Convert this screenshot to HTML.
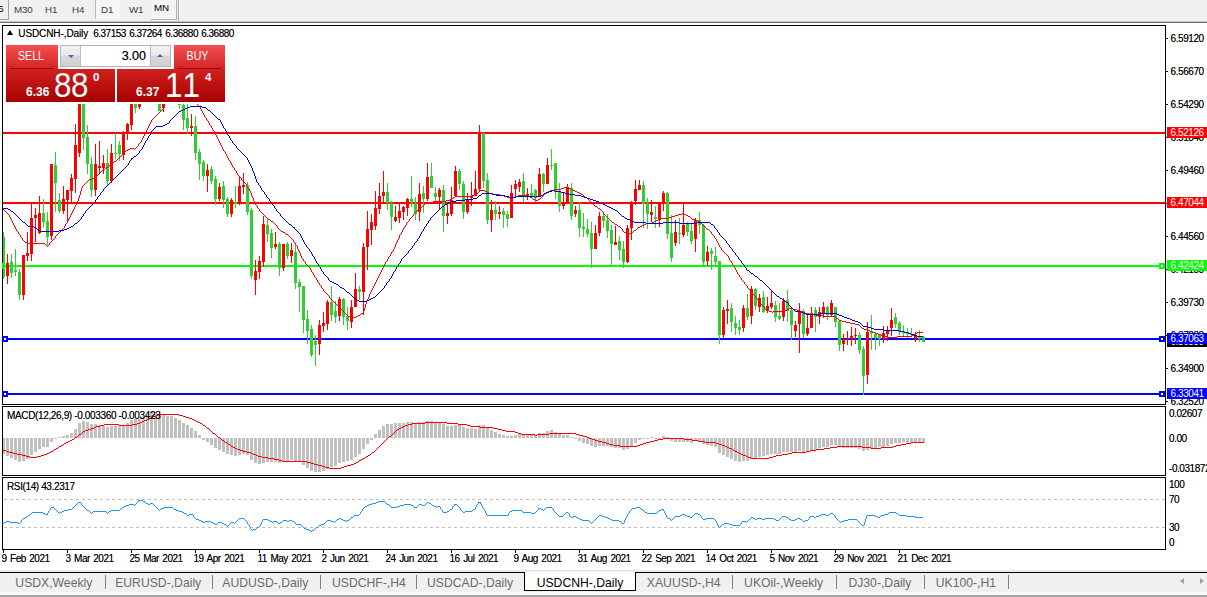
<!DOCTYPE html>
<html><head><meta charset="utf-8"><title>USDCNH-,Daily</title>
<style>
html,body{margin:0;padding:0}
body{width:1207px;height:597px;overflow:hidden;position:relative;background:#f0f0f0;font-family:"Liberation Sans",sans-serif;font-size:10px;color:#000;text-shadow:0 0 0 rgba(0,0,0,0.55)}
div{box-sizing:border-box}
#win{position:absolute;left:0;top:24px;width:1207px;height:547px;background:#fff}
.fr{position:absolute;border:1px solid #000;border-right:none}
.pl{position:absolute;left:1170.6px;height:12px;line-height:12px;font-size:10px;letter-spacing:-0.44px;white-space:nowrap}
.tk{position:absolute;left:1166px;width:2px;height:1px;background:#000}
.tag{position:absolute;left:1167px;width:40px;height:11px;line-height:11px;padding-left:3.6px;color:#fff;text-shadow:none;font-size:10px;letter-spacing:-0.44px;white-space:nowrap}
.dt{position:absolute;top:553px;height:12px;line-height:12px;font-size:10px;letter-spacing:-0.52px;word-spacing:1.3px;white-space:nowrap}
.tab{text-shadow:none;position:absolute;top:575px;height:17px;line-height:17px;font-size:12.2px;color:#6a6a6a;white-space:nowrap;text-align:center}
.tn{position:absolute;top:28px;height:12px;line-height:12px;letter-spacing:-0.5px;white-space:pre}
.tbt{text-shadow:none;position:absolute;top:4px;height:12px;line-height:12px;font-size:9.8px;letter-spacing:-0.2px;color:#3c3c3c;white-space:nowrap}
</style></head><body>
<!-- toolbar -->
<div style="position:absolute;left:0;top:0;width:1207px;height:21px;background:#f0f0f0"></div>
<div style="position:absolute;left:0;top:21px;width:1207px;height:1px;background:#c4c4c4"></div>
<div style="position:absolute;left:0;top:22px;width:1207px;height:1px;background:#6e6e6e"></div>
<div style="position:absolute;left:0;top:23px;width:1207px;height:2px;background:#ffffff"></div>
<div class="tbt" style="left:-1.8px;top:3px;color:#000">5</div>
<div style="position:absolute;left:0;top:19px;width:9px;height:1px;background:#a0a0a0"></div>
<div style="position:absolute;left:8px;top:0;width:1px;height:20px;background:#a0a0a0"></div>
<div class="tbt" style="left:14px">M30</div>
<div class="tbt" style="left:45px">H1</div>
<div class="tbt" style="left:72px">H4</div>
<div style="position:absolute;left:95px;top:0;width:1px;height:19px;background:#b8b8b8"></div>
<div style="position:absolute;left:96px;top:0;width:24px;height:19px;background:#f6f6f6"></div>
<div class="tbt" style="left:101px">D1</div>
<div class="tbt" style="left:129px">W1</div>
<div style="position:absolute;left:151px;top:-1px;width:26px;height:21px;background:#f4f4f4;border-right:1px solid #b0b0b0;border-bottom:1px solid #b0b0b0"></div>
<div class="tbt" style="left:154px;top:2px;color:#000">MN</div>
<div style="position:absolute;left:178px;top:0;width:1px;height:21px;background:#a8a8a8"></div><div style="position:absolute;left:179px;top:0;width:1px;height:21px;background:#fafafa"></div>

<div id="win"></div>
<svg width="1207" height="597" viewBox="0 0 1207 597" style="position:absolute;left:0;top:0">
<g shape-rendering="crispEdges">
<rect x="3" y="132" width="1163" height="2" fill="#ff0000"/>
<rect x="3" y="202" width="1163" height="2" fill="#ff0000"/>
<rect x="3" y="265" width="1163" height="2" fill="#00ff00"/>
<rect x="3" y="338" width="1163" height="2" fill="#0000ff"/>
<rect x="3" y="393" width="1163" height="2" fill="#0000ff"/>
<rect x="3" y="232" width="1" height="47" fill="#32cd32"/>
<rect x="2" y="237" width="3" height="40" fill="#32cd32"/>
<rect x="7" y="254" width="1" height="30" fill="#ff0000"/>
<rect x="6" y="263" width="3" height="13" fill="#ff0000"/>
<rect x="11" y="254" width="1" height="24" fill="#32cd32"/>
<rect x="10" y="262" width="3" height="11" fill="#32cd32"/>
<rect x="15" y="249" width="1" height="27" fill="#32cd32"/>
<rect x="14" y="270" width="3" height="2" fill="#32cd32"/>
<rect x="19" y="269" width="1" height="31" fill="#32cd32"/>
<rect x="18" y="272" width="3" height="23" fill="#32cd32"/>
<rect x="23" y="255" width="1" height="45" fill="#ff0000"/>
<rect x="22" y="255" width="3" height="40" fill="#ff0000"/>
<rect x="27" y="232" width="1" height="29" fill="#ff0000"/>
<rect x="26" y="253" width="3" height="3" fill="#ff0000"/>
<rect x="31" y="203" width="1" height="58" fill="#ff0000"/>
<rect x="30" y="218" width="3" height="36" fill="#ff0000"/>
<rect x="35" y="208" width="1" height="34" fill="#ff0000"/>
<rect x="34" y="215" width="3" height="3" fill="#ff0000"/>
<rect x="39" y="196" width="1" height="38" fill="#ff0000"/>
<rect x="38" y="213" width="3" height="20" fill="#ff0000"/>
<rect x="43" y="199" width="1" height="29" fill="#32cd32"/>
<rect x="42" y="213" width="3" height="9" fill="#32cd32"/>
<rect x="47" y="212" width="1" height="33" fill="#32cd32"/>
<rect x="46" y="221" width="3" height="16" fill="#32cd32"/>
<rect x="51" y="164" width="1" height="76" fill="#ff0000"/>
<rect x="50" y="164" width="3" height="72" fill="#ff0000"/>
<rect x="55" y="152" width="1" height="60" fill="#32cd32"/>
<rect x="54" y="165" width="3" height="18" fill="#32cd32"/>
<rect x="59" y="193" width="1" height="20" fill="#32cd32"/>
<rect x="58" y="200" width="3" height="11" fill="#32cd32"/>
<rect x="63" y="186" width="1" height="28" fill="#ff0000"/>
<rect x="62" y="199" width="3" height="12" fill="#ff0000"/>
<rect x="67" y="190" width="1" height="32" fill="#ff0000"/>
<rect x="66" y="190" width="3" height="10" fill="#ff0000"/>
<rect x="71" y="174" width="1" height="30" fill="#ff0000"/>
<rect x="70" y="178" width="3" height="13" fill="#ff0000"/>
<rect x="75" y="124" width="1" height="69" fill="#ff0000"/>
<rect x="74" y="145" width="3" height="34" fill="#ff0000"/>
<rect x="79" y="90" width="1" height="67" fill="#ff0000"/>
<rect x="78" y="90" width="3" height="63" fill="#ff0000"/>
<rect x="83" y="90" width="1" height="60" fill="#32cd32"/>
<rect x="82" y="90" width="3" height="48" fill="#32cd32"/>
<rect x="87" y="125" width="1" height="49" fill="#32cd32"/>
<rect x="86" y="137" width="3" height="27" fill="#32cd32"/>
<rect x="91" y="157" width="1" height="40" fill="#32cd32"/>
<rect x="90" y="164" width="3" height="26" fill="#32cd32"/>
<rect x="95" y="144" width="1" height="52" fill="#ff0000"/>
<rect x="94" y="164" width="3" height="26" fill="#ff0000"/>
<rect x="99" y="141" width="1" height="33" fill="#ff0000"/>
<rect x="98" y="166" width="3" height="2" fill="#ff0000"/>
<rect x="103" y="155" width="1" height="19" fill="#ff0000"/>
<rect x="102" y="163" width="3" height="5" fill="#ff0000"/>
<rect x="107" y="149" width="1" height="36" fill="#32cd32"/>
<rect x="106" y="163" width="3" height="18" fill="#32cd32"/>
<rect x="111" y="144" width="1" height="39" fill="#ff0000"/>
<rect x="110" y="153" width="3" height="28" fill="#ff0000"/>
<rect x="115" y="133" width="1" height="26" fill="#32cd32"/>
<rect x="114" y="153" width="3" height="1" fill="#32cd32"/>
<rect x="119" y="141" width="1" height="20" fill="#32cd32"/>
<rect x="118" y="145" width="3" height="9" fill="#32cd32"/>
<rect x="123" y="131" width="1" height="29" fill="#ff0000"/>
<rect x="122" y="132" width="3" height="23" fill="#ff0000"/>
<rect x="127" y="123" width="1" height="17" fill="#ff0000"/>
<rect x="126" y="124" width="3" height="8" fill="#ff0000"/>
<rect x="131" y="90" width="1" height="40" fill="#ff0000"/>
<rect x="130" y="90" width="3" height="35" fill="#ff0000"/>
<rect x="135" y="90" width="1" height="23" fill="#32cd32"/>
<rect x="134" y="90" width="3" height="18" fill="#32cd32"/>
<rect x="139" y="90" width="1" height="19" fill="#ff0000"/>
<rect x="138" y="90" width="3" height="17" fill="#ff0000"/>
<rect x="159" y="90" width="1" height="21" fill="#32cd32"/>
<rect x="158" y="90" width="3" height="21" fill="#32cd32"/>
<rect x="163" y="90" width="1" height="22" fill="#ff0000"/>
<rect x="162" y="90" width="3" height="18" fill="#ff0000"/>
<rect x="179" y="90" width="1" height="19" fill="#32cd32"/>
<rect x="178" y="104" width="3" height="1" fill="#32cd32"/>
<rect x="183" y="100" width="1" height="30" fill="#32cd32"/>
<rect x="182" y="105" width="3" height="15" fill="#32cd32"/>
<rect x="187" y="100" width="1" height="34" fill="#32cd32"/>
<rect x="186" y="118" width="3" height="10" fill="#32cd32"/>
<rect x="191" y="114" width="1" height="22" fill="#ff0000"/>
<rect x="190" y="126" width="3" height="2" fill="#ff0000"/>
<rect x="195" y="116" width="1" height="44" fill="#32cd32"/>
<rect x="194" y="126" width="3" height="27" fill="#32cd32"/>
<rect x="199" y="149" width="1" height="31" fill="#32cd32"/>
<rect x="198" y="152" width="3" height="12" fill="#32cd32"/>
<rect x="203" y="160" width="1" height="21" fill="#32cd32"/>
<rect x="202" y="162" width="3" height="14" fill="#32cd32"/>
<rect x="207" y="164" width="1" height="28" fill="#ff0000"/>
<rect x="206" y="170" width="3" height="6" fill="#ff0000"/>
<rect x="211" y="166" width="1" height="18" fill="#32cd32"/>
<rect x="210" y="169" width="3" height="12" fill="#32cd32"/>
<rect x="215" y="176" width="1" height="29" fill="#32cd32"/>
<rect x="214" y="179" width="3" height="20" fill="#32cd32"/>
<rect x="219" y="183" width="1" height="18" fill="#ff0000"/>
<rect x="218" y="187" width="3" height="12" fill="#ff0000"/>
<rect x="223" y="181" width="1" height="27" fill="#32cd32"/>
<rect x="222" y="186" width="3" height="14" fill="#32cd32"/>
<rect x="227" y="197" width="1" height="20" fill="#32cd32"/>
<rect x="226" y="199" width="3" height="15" fill="#32cd32"/>
<rect x="231" y="198" width="1" height="19" fill="#ff0000"/>
<rect x="230" y="200" width="3" height="14" fill="#ff0000"/>
<rect x="235" y="186" width="1" height="22" fill="#32cd32"/>
<rect x="234" y="202" width="3" height="2" fill="#32cd32"/>
<rect x="239" y="176" width="1" height="29" fill="#ff0000"/>
<rect x="238" y="186" width="3" height="18" fill="#ff0000"/>
<rect x="243" y="173" width="1" height="21" fill="#ff0000"/>
<rect x="242" y="185" width="3" height="2" fill="#ff0000"/>
<rect x="247" y="182" width="1" height="33" fill="#32cd32"/>
<rect x="246" y="185" width="3" height="27" fill="#32cd32"/>
<rect x="251" y="208" width="1" height="71" fill="#32cd32"/>
<rect x="250" y="210" width="3" height="66" fill="#32cd32"/>
<rect x="255" y="260" width="1" height="35" fill="#ff0000"/>
<rect x="254" y="271" width="3" height="9" fill="#ff0000"/>
<rect x="259" y="256" width="1" height="23" fill="#ff0000"/>
<rect x="258" y="261" width="3" height="11" fill="#ff0000"/>
<rect x="263" y="216" width="1" height="51" fill="#ff0000"/>
<rect x="262" y="224" width="3" height="38" fill="#ff0000"/>
<rect x="267" y="219" width="1" height="23" fill="#32cd32"/>
<rect x="266" y="225" width="3" height="9" fill="#32cd32"/>
<rect x="271" y="229" width="1" height="29" fill="#32cd32"/>
<rect x="270" y="233" width="3" height="15" fill="#32cd32"/>
<rect x="275" y="232" width="1" height="17" fill="#ff0000"/>
<rect x="274" y="244" width="3" height="3" fill="#ff0000"/>
<rect x="279" y="242" width="1" height="34" fill="#32cd32"/>
<rect x="278" y="244" width="3" height="24" fill="#32cd32"/>
<rect x="283" y="244" width="1" height="27" fill="#ff0000"/>
<rect x="282" y="244" width="3" height="24" fill="#ff0000"/>
<rect x="287" y="242" width="1" height="17" fill="#32cd32"/>
<rect x="286" y="244" width="3" height="12" fill="#32cd32"/>
<rect x="291" y="243" width="1" height="20" fill="#ff0000"/>
<rect x="290" y="250" width="3" height="6" fill="#ff0000"/>
<rect x="295" y="244" width="1" height="45" fill="#32cd32"/>
<rect x="294" y="252" width="3" height="31" fill="#32cd32"/>
<rect x="299" y="279" width="1" height="33" fill="#32cd32"/>
<rect x="298" y="282" width="3" height="5" fill="#32cd32"/>
<rect x="303" y="286" width="1" height="47" fill="#32cd32"/>
<rect x="302" y="286" width="3" height="34" fill="#32cd32"/>
<rect x="307" y="310" width="1" height="34" fill="#32cd32"/>
<rect x="306" y="319" width="3" height="12" fill="#32cd32"/>
<rect x="311" y="325" width="1" height="32" fill="#32cd32"/>
<rect x="310" y="329" width="3" height="26" fill="#32cd32"/>
<rect x="315" y="335" width="1" height="31" fill="#32cd32"/>
<rect x="314" y="341" width="3" height="4" fill="#32cd32"/>
<rect x="319" y="320" width="1" height="35" fill="#ff0000"/>
<rect x="318" y="325" width="3" height="19" fill="#ff0000"/>
<rect x="323" y="312" width="1" height="20" fill="#ff0000"/>
<rect x="322" y="323" width="3" height="3" fill="#ff0000"/>
<rect x="327" y="300" width="1" height="30" fill="#ff0000"/>
<rect x="326" y="302" width="3" height="22" fill="#ff0000"/>
<rect x="331" y="286" width="1" height="35" fill="#32cd32"/>
<rect x="330" y="302" width="3" height="13" fill="#32cd32"/>
<rect x="335" y="301" width="1" height="22" fill="#32cd32"/>
<rect x="334" y="311" width="3" height="6" fill="#32cd32"/>
<rect x="339" y="297" width="1" height="24" fill="#ff0000"/>
<rect x="338" y="299" width="3" height="17" fill="#ff0000"/>
<rect x="343" y="298" width="1" height="27" fill="#32cd32"/>
<rect x="342" y="299" width="3" height="18" fill="#32cd32"/>
<rect x="347" y="307" width="1" height="23" fill="#32cd32"/>
<rect x="346" y="316" width="3" height="5" fill="#32cd32"/>
<rect x="351" y="300" width="1" height="28" fill="#ff0000"/>
<rect x="350" y="307" width="3" height="15" fill="#ff0000"/>
<rect x="355" y="273" width="1" height="34" fill="#ff0000"/>
<rect x="354" y="289" width="3" height="18" fill="#ff0000"/>
<rect x="359" y="286" width="1" height="14" fill="#32cd32"/>
<rect x="358" y="289" width="3" height="3" fill="#32cd32"/>
<rect x="363" y="243" width="1" height="72" fill="#ff0000"/>
<rect x="362" y="247" width="3" height="45" fill="#ff0000"/>
<rect x="367" y="211" width="1" height="59" fill="#ff0000"/>
<rect x="366" y="229" width="3" height="18" fill="#ff0000"/>
<rect x="371" y="214" width="1" height="31" fill="#ff0000"/>
<rect x="370" y="222" width="3" height="8" fill="#ff0000"/>
<rect x="375" y="191" width="1" height="39" fill="#ff0000"/>
<rect x="374" y="208" width="3" height="18" fill="#ff0000"/>
<rect x="379" y="183" width="1" height="31" fill="#ff0000"/>
<rect x="378" y="196" width="3" height="13" fill="#ff0000"/>
<rect x="383" y="171" width="1" height="31" fill="#ff0000"/>
<rect x="382" y="192" width="3" height="4" fill="#ff0000"/>
<rect x="387" y="183" width="1" height="27" fill="#32cd32"/>
<rect x="386" y="192" width="3" height="11" fill="#32cd32"/>
<rect x="391" y="201" width="1" height="29" fill="#32cd32"/>
<rect x="390" y="203" width="3" height="14" fill="#32cd32"/>
<rect x="395" y="206" width="1" height="16" fill="#ff0000"/>
<rect x="394" y="217" width="3" height="4" fill="#ff0000"/>
<rect x="399" y="204" width="1" height="19" fill="#ff0000"/>
<rect x="398" y="211" width="3" height="7" fill="#ff0000"/>
<rect x="403" y="206" width="1" height="14" fill="#ff0000"/>
<rect x="402" y="207" width="3" height="5" fill="#ff0000"/>
<rect x="407" y="198" width="1" height="18" fill="#ff0000"/>
<rect x="406" y="199" width="3" height="9" fill="#ff0000"/>
<rect x="411" y="176" width="1" height="31" fill="#32cd32"/>
<rect x="410" y="199" width="3" height="4" fill="#32cd32"/>
<rect x="415" y="197" width="1" height="23" fill="#32cd32"/>
<rect x="414" y="203" width="3" height="11" fill="#32cd32"/>
<rect x="419" y="183" width="1" height="38" fill="#ff0000"/>
<rect x="418" y="194" width="3" height="18" fill="#ff0000"/>
<rect x="423" y="186" width="1" height="27" fill="#32cd32"/>
<rect x="422" y="193" width="3" height="6" fill="#32cd32"/>
<rect x="427" y="163" width="1" height="38" fill="#ff0000"/>
<rect x="426" y="177" width="3" height="22" fill="#ff0000"/>
<rect x="431" y="163" width="1" height="25" fill="#32cd32"/>
<rect x="430" y="176" width="3" height="12" fill="#32cd32"/>
<rect x="435" y="187" width="1" height="14" fill="#32cd32"/>
<rect x="434" y="193" width="3" height="4" fill="#32cd32"/>
<rect x="439" y="188" width="1" height="21" fill="#ff0000"/>
<rect x="438" y="190" width="3" height="7" fill="#ff0000"/>
<rect x="443" y="185" width="1" height="47" fill="#32cd32"/>
<rect x="442" y="190" width="3" height="26" fill="#32cd32"/>
<rect x="447" y="203" width="1" height="21" fill="#ff0000"/>
<rect x="446" y="213" width="3" height="3" fill="#ff0000"/>
<rect x="451" y="187" width="1" height="29" fill="#ff0000"/>
<rect x="450" y="200" width="3" height="14" fill="#ff0000"/>
<rect x="455" y="166" width="1" height="31" fill="#ff0000"/>
<rect x="454" y="171" width="3" height="25" fill="#ff0000"/>
<rect x="459" y="169" width="1" height="21" fill="#32cd32"/>
<rect x="458" y="171" width="3" height="13" fill="#32cd32"/>
<rect x="463" y="181" width="1" height="38" fill="#32cd32"/>
<rect x="462" y="184" width="3" height="28" fill="#32cd32"/>
<rect x="467" y="193" width="1" height="21" fill="#ff0000"/>
<rect x="466" y="200" width="3" height="12" fill="#ff0000"/>
<rect x="471" y="182" width="1" height="24" fill="#ff0000"/>
<rect x="470" y="196" width="3" height="2" fill="#ff0000"/>
<rect x="475" y="171" width="1" height="25" fill="#ff0000"/>
<rect x="474" y="189" width="3" height="7" fill="#ff0000"/>
<rect x="479" y="125" width="1" height="67" fill="#ff0000"/>
<rect x="478" y="133" width="3" height="56" fill="#ff0000"/>
<rect x="483" y="133" width="1" height="55" fill="#32cd32"/>
<rect x="482" y="133" width="3" height="48" fill="#32cd32"/>
<rect x="487" y="173" width="1" height="51" fill="#32cd32"/>
<rect x="486" y="180" width="3" height="40" fill="#32cd32"/>
<rect x="491" y="200" width="1" height="32" fill="#ff0000"/>
<rect x="490" y="210" width="3" height="10" fill="#ff0000"/>
<rect x="495" y="201" width="1" height="19" fill="#32cd32"/>
<rect x="494" y="210" width="3" height="4" fill="#32cd32"/>
<rect x="499" y="206" width="1" height="13" fill="#ff0000"/>
<rect x="498" y="212" width="3" height="2" fill="#ff0000"/>
<rect x="503" y="208" width="1" height="20" fill="#32cd32"/>
<rect x="502" y="211" width="3" height="4" fill="#32cd32"/>
<rect x="507" y="211" width="1" height="16" fill="#32cd32"/>
<rect x="506" y="214" width="3" height="5" fill="#32cd32"/>
<rect x="511" y="185" width="1" height="33" fill="#ff0000"/>
<rect x="510" y="193" width="3" height="25" fill="#ff0000"/>
<rect x="515" y="180" width="1" height="17" fill="#ff0000"/>
<rect x="514" y="184" width="3" height="5" fill="#ff0000"/>
<rect x="519" y="179" width="1" height="13" fill="#ff0000"/>
<rect x="518" y="182" width="3" height="5" fill="#ff0000"/>
<rect x="523" y="173" width="1" height="29" fill="#32cd32"/>
<rect x="522" y="181" width="3" height="15" fill="#32cd32"/>
<rect x="527" y="188" width="1" height="12" fill="#ff0000"/>
<rect x="526" y="194" width="3" height="2" fill="#ff0000"/>
<rect x="531" y="184" width="1" height="14" fill="#32cd32"/>
<rect x="530" y="193" width="3" height="4" fill="#32cd32"/>
<rect x="535" y="189" width="1" height="13" fill="#32cd32"/>
<rect x="534" y="190" width="3" height="8" fill="#32cd32"/>
<rect x="539" y="168" width="1" height="29" fill="#ff0000"/>
<rect x="538" y="174" width="3" height="23" fill="#ff0000"/>
<rect x="543" y="173" width="1" height="19" fill="#32cd32"/>
<rect x="542" y="174" width="3" height="10" fill="#32cd32"/>
<rect x="547" y="158" width="1" height="26" fill="#ff0000"/>
<rect x="546" y="165" width="3" height="19" fill="#ff0000"/>
<rect x="551" y="149" width="1" height="21" fill="#32cd32"/>
<rect x="550" y="165" width="3" height="1" fill="#32cd32"/>
<rect x="555" y="163" width="1" height="36" fill="#32cd32"/>
<rect x="554" y="163" width="3" height="29" fill="#32cd32"/>
<rect x="559" y="183" width="1" height="29" fill="#32cd32"/>
<rect x="558" y="192" width="3" height="14" fill="#32cd32"/>
<rect x="563" y="192" width="1" height="17" fill="#ff0000"/>
<rect x="562" y="203" width="3" height="3" fill="#ff0000"/>
<rect x="567" y="184" width="1" height="20" fill="#ff0000"/>
<rect x="566" y="187" width="3" height="17" fill="#ff0000"/>
<rect x="571" y="183" width="1" height="37" fill="#32cd32"/>
<rect x="570" y="188" width="3" height="28" fill="#32cd32"/>
<rect x="575" y="206" width="1" height="11" fill="#ff0000"/>
<rect x="574" y="210" width="3" height="4" fill="#ff0000"/>
<rect x="579" y="202" width="1" height="35" fill="#32cd32"/>
<rect x="578" y="210" width="3" height="18" fill="#32cd32"/>
<rect x="583" y="213" width="1" height="24" fill="#32cd32"/>
<rect x="582" y="227" width="3" height="2" fill="#32cd32"/>
<rect x="587" y="219" width="1" height="18" fill="#32cd32"/>
<rect x="586" y="229" width="3" height="5" fill="#32cd32"/>
<rect x="591" y="222" width="1" height="46" fill="#32cd32"/>
<rect x="590" y="233" width="3" height="16" fill="#32cd32"/>
<rect x="595" y="225" width="1" height="24" fill="#ff0000"/>
<rect x="594" y="233" width="3" height="16" fill="#ff0000"/>
<rect x="599" y="212" width="1" height="24" fill="#ff0000"/>
<rect x="598" y="216" width="3" height="17" fill="#ff0000"/>
<rect x="603" y="214" width="1" height="14" fill="#32cd32"/>
<rect x="602" y="216" width="3" height="5" fill="#32cd32"/>
<rect x="607" y="214" width="1" height="24" fill="#32cd32"/>
<rect x="606" y="220" width="3" height="11" fill="#32cd32"/>
<rect x="611" y="225" width="1" height="40" fill="#32cd32"/>
<rect x="610" y="230" width="3" height="14" fill="#32cd32"/>
<rect x="615" y="226" width="1" height="19" fill="#ff0000"/>
<rect x="614" y="242" width="3" height="3" fill="#ff0000"/>
<rect x="619" y="236" width="1" height="24" fill="#32cd32"/>
<rect x="618" y="241" width="3" height="9" fill="#32cd32"/>
<rect x="623" y="241" width="1" height="27" fill="#32cd32"/>
<rect x="622" y="249" width="3" height="13" fill="#32cd32"/>
<rect x="627" y="225" width="1" height="38" fill="#ff0000"/>
<rect x="626" y="228" width="3" height="34" fill="#ff0000"/>
<rect x="631" y="201" width="1" height="39" fill="#ff0000"/>
<rect x="630" y="203" width="3" height="25" fill="#ff0000"/>
<rect x="635" y="180" width="1" height="25" fill="#ff0000"/>
<rect x="634" y="189" width="3" height="12" fill="#ff0000"/>
<rect x="639" y="180" width="1" height="10" fill="#ff0000"/>
<rect x="638" y="185" width="3" height="5" fill="#ff0000"/>
<rect x="643" y="181" width="1" height="47" fill="#32cd32"/>
<rect x="642" y="185" width="3" height="19" fill="#32cd32"/>
<rect x="647" y="198" width="1" height="31" fill="#32cd32"/>
<rect x="646" y="203" width="3" height="11" fill="#32cd32"/>
<rect x="651" y="200" width="1" height="22" fill="#ff0000"/>
<rect x="650" y="212" width="3" height="3" fill="#ff0000"/>
<rect x="655" y="206" width="1" height="22" fill="#32cd32"/>
<rect x="654" y="217" width="3" height="2" fill="#32cd32"/>
<rect x="659" y="204" width="1" height="23" fill="#ff0000"/>
<rect x="658" y="204" width="3" height="15" fill="#ff0000"/>
<rect x="663" y="191" width="1" height="20" fill="#ff0000"/>
<rect x="662" y="193" width="3" height="11" fill="#ff0000"/>
<rect x="667" y="192" width="1" height="47" fill="#32cd32"/>
<rect x="666" y="193" width="3" height="41" fill="#32cd32"/>
<rect x="671" y="215" width="1" height="47" fill="#32cd32"/>
<rect x="670" y="233" width="3" height="25" fill="#32cd32"/>
<rect x="675" y="220" width="1" height="26" fill="#ff0000"/>
<rect x="674" y="232" width="3" height="11" fill="#ff0000"/>
<rect x="679" y="218" width="1" height="26" fill="#32cd32"/>
<rect x="678" y="233" width="3" height="1" fill="#32cd32"/>
<rect x="683" y="204" width="1" height="33" fill="#ff0000"/>
<rect x="682" y="225" width="3" height="10" fill="#ff0000"/>
<rect x="687" y="222" width="1" height="14" fill="#32cd32"/>
<rect x="686" y="224" width="3" height="8" fill="#32cd32"/>
<rect x="691" y="224" width="1" height="20" fill="#32cd32"/>
<rect x="690" y="231" width="3" height="10" fill="#32cd32"/>
<rect x="695" y="218" width="1" height="34" fill="#ff0000"/>
<rect x="694" y="220" width="3" height="19" fill="#ff0000"/>
<rect x="699" y="212" width="1" height="22" fill="#32cd32"/>
<rect x="698" y="220" width="3" height="5" fill="#32cd32"/>
<rect x="703" y="224" width="1" height="42" fill="#32cd32"/>
<rect x="702" y="225" width="3" height="37" fill="#32cd32"/>
<rect x="707" y="246" width="1" height="20" fill="#ff0000"/>
<rect x="706" y="252" width="3" height="9" fill="#ff0000"/>
<rect x="711" y="248" width="1" height="22" fill="#32cd32"/>
<rect x="710" y="251" width="3" height="3" fill="#32cd32"/>
<rect x="715" y="247" width="1" height="19" fill="#32cd32"/>
<rect x="714" y="256" width="3" height="6" fill="#32cd32"/>
<rect x="719" y="261" width="1" height="83" fill="#32cd32"/>
<rect x="718" y="261" width="3" height="74" fill="#32cd32"/>
<rect x="723" y="307" width="1" height="31" fill="#ff0000"/>
<rect x="722" y="310" width="3" height="25" fill="#ff0000"/>
<rect x="727" y="300" width="1" height="24" fill="#ff0000"/>
<rect x="726" y="309" width="3" height="2" fill="#ff0000"/>
<rect x="731" y="303" width="1" height="29" fill="#32cd32"/>
<rect x="730" y="308" width="3" height="14" fill="#32cd32"/>
<rect x="735" y="316" width="1" height="19" fill="#32cd32"/>
<rect x="734" y="323" width="3" height="5" fill="#32cd32"/>
<rect x="739" y="320" width="1" height="15" fill="#32cd32"/>
<rect x="738" y="327" width="3" height="3" fill="#32cd32"/>
<rect x="743" y="305" width="1" height="27" fill="#ff0000"/>
<rect x="742" y="308" width="3" height="20" fill="#ff0000"/>
<rect x="747" y="294" width="1" height="26" fill="#32cd32"/>
<rect x="746" y="308" width="3" height="9" fill="#32cd32"/>
<rect x="751" y="286" width="1" height="38" fill="#ff0000"/>
<rect x="750" y="289" width="3" height="27" fill="#ff0000"/>
<rect x="755" y="288" width="1" height="22" fill="#32cd32"/>
<rect x="754" y="289" width="3" height="17" fill="#32cd32"/>
<rect x="759" y="294" width="1" height="18" fill="#ff0000"/>
<rect x="758" y="298" width="3" height="9" fill="#ff0000"/>
<rect x="763" y="291" width="1" height="22" fill="#32cd32"/>
<rect x="762" y="297" width="3" height="15" fill="#32cd32"/>
<rect x="767" y="297" width="1" height="16" fill="#ff0000"/>
<rect x="766" y="306" width="3" height="5" fill="#ff0000"/>
<rect x="771" y="290" width="1" height="19" fill="#ff0000"/>
<rect x="770" y="303" width="3" height="4" fill="#ff0000"/>
<rect x="775" y="301" width="1" height="21" fill="#32cd32"/>
<rect x="774" y="305" width="3" height="12" fill="#32cd32"/>
<rect x="779" y="303" width="1" height="17" fill="#32cd32"/>
<rect x="778" y="316" width="3" height="3" fill="#32cd32"/>
<rect x="783" y="298" width="1" height="23" fill="#ff0000"/>
<rect x="782" y="301" width="3" height="16" fill="#ff0000"/>
<rect x="787" y="290" width="1" height="32" fill="#32cd32"/>
<rect x="786" y="300" width="3" height="11" fill="#32cd32"/>
<rect x="791" y="308" width="1" height="32" fill="#32cd32"/>
<rect x="790" y="310" width="3" height="15" fill="#32cd32"/>
<rect x="795" y="321" width="1" height="16" fill="#ff0000"/>
<rect x="794" y="325" width="3" height="6" fill="#ff0000"/>
<rect x="799" y="303" width="1" height="50" fill="#ff0000"/>
<rect x="798" y="311" width="3" height="13" fill="#ff0000"/>
<rect x="803" y="309" width="1" height="29" fill="#32cd32"/>
<rect x="802" y="311" width="3" height="23" fill="#32cd32"/>
<rect x="807" y="314" width="1" height="22" fill="#ff0000"/>
<rect x="806" y="328" width="3" height="6" fill="#ff0000"/>
<rect x="811" y="307" width="1" height="21" fill="#ff0000"/>
<rect x="810" y="313" width="3" height="15" fill="#ff0000"/>
<rect x="815" y="307" width="1" height="25" fill="#32cd32"/>
<rect x="814" y="310" width="3" height="7" fill="#32cd32"/>
<rect x="819" y="307" width="1" height="17" fill="#ff0000"/>
<rect x="818" y="312" width="3" height="5" fill="#ff0000"/>
<rect x="823" y="302" width="1" height="16" fill="#ff0000"/>
<rect x="822" y="307" width="3" height="7" fill="#ff0000"/>
<rect x="827" y="306" width="1" height="14" fill="#32cd32"/>
<rect x="826" y="307" width="3" height="8" fill="#32cd32"/>
<rect x="831" y="300" width="1" height="16" fill="#ff0000"/>
<rect x="830" y="303" width="3" height="12" fill="#ff0000"/>
<rect x="835" y="307" width="1" height="20" fill="#32cd32"/>
<rect x="834" y="307" width="3" height="15" fill="#32cd32"/>
<rect x="839" y="321" width="1" height="30" fill="#32cd32"/>
<rect x="838" y="321" width="3" height="24" fill="#32cd32"/>
<rect x="843" y="334" width="1" height="17" fill="#ff0000"/>
<rect x="842" y="339" width="3" height="5" fill="#ff0000"/>
<rect x="847" y="331" width="1" height="14" fill="#ff0000"/>
<rect x="846" y="338" width="3" height="1" fill="#ff0000"/>
<rect x="851" y="327" width="1" height="19" fill="#ff0000"/>
<rect x="850" y="336" width="3" height="3" fill="#ff0000"/>
<rect x="855" y="328" width="1" height="16" fill="#ff0000"/>
<rect x="854" y="335" width="3" height="1" fill="#ff0000"/>
<rect x="859" y="332" width="1" height="22" fill="#32cd32"/>
<rect x="858" y="335" width="3" height="15" fill="#32cd32"/>
<rect x="863" y="346" width="1" height="49" fill="#32cd32"/>
<rect x="862" y="349" width="3" height="27" fill="#32cd32"/>
<rect x="867" y="322" width="1" height="62" fill="#ff0000"/>
<rect x="866" y="332" width="3" height="43" fill="#ff0000"/>
<rect x="871" y="315" width="1" height="35" fill="#32cd32"/>
<rect x="870" y="331" width="3" height="2" fill="#32cd32"/>
<rect x="875" y="332" width="1" height="18" fill="#32cd32"/>
<rect x="874" y="334" width="3" height="4" fill="#32cd32"/>
<rect x="879" y="334" width="1" height="12" fill="#32cd32"/>
<rect x="878" y="335" width="3" height="4" fill="#32cd32"/>
<rect x="883" y="326" width="1" height="17" fill="#ff0000"/>
<rect x="882" y="333" width="3" height="6" fill="#ff0000"/>
<rect x="887" y="326" width="1" height="15" fill="#ff0000"/>
<rect x="886" y="330" width="3" height="4" fill="#ff0000"/>
<rect x="891" y="308" width="1" height="28" fill="#ff0000"/>
<rect x="890" y="320" width="3" height="8" fill="#ff0000"/>
<rect x="895" y="313" width="1" height="15" fill="#32cd32"/>
<rect x="894" y="317" width="3" height="7" fill="#32cd32"/>
<rect x="899" y="321" width="1" height="14" fill="#32cd32"/>
<rect x="898" y="323" width="3" height="9" fill="#32cd32"/>
<rect x="903" y="325" width="1" height="11" fill="#32cd32"/>
<rect x="902" y="331" width="3" height="2" fill="#32cd32"/>
<rect x="907" y="328" width="1" height="10" fill="#32cd32"/>
<rect x="906" y="332" width="3" height="2" fill="#32cd32"/>
<rect x="911" y="328" width="1" height="8" fill="#32cd32"/>
<rect x="910" y="334" width="3" height="1" fill="#32cd32"/>
<rect x="915" y="332" width="1" height="10" fill="#ff0000"/>
<rect x="914" y="336" width="3" height="3" fill="#ff0000"/>
<rect x="919" y="330" width="1" height="12" fill="#32cd32"/>
<rect x="918" y="336" width="3" height="3" fill="#32cd32"/>
<rect x="923" y="336" width="1" height="6" fill="#32cd32"/>
<rect x="922" y="337" width="3" height="5" fill="#32cd32"/>
<path d="M3 209h1v1h-1zM4 210h1v1h-1zM5 211h1v1h-1zM6 212h1v1h-1zM7 213h1v1h-1zM8 214h1v1h-1zM9 215h1v2h-1zM10 217h1v2h-1zM11 219h1v2h-1zM12 221h1v2h-1zM13 223h1v2h-1zM14 225h1v2h-1zM15 227h1v2h-1zM16 229h1v2h-1zM17 231h1v1h-1zM18 232h1v2h-1zM19 234h1v1h-1zM20 235h1v2h-1zM21 237h1v1h-1zM22 238h1v2h-1zM23 240h1v1h-1zM24 241h1v1h-1zM25 242h2v1h-2zM27 243h18v1h-18zM45 244h1v1h-1zM46 245h1v1h-1zM47 246h1v1h-1zM48 245h1v1h-1zM49 243h1v2h-1zM50 242h1v1h-1zM51 241h1v1h-1zM52 240h1v1h-1zM53 239h1v1h-1zM54 238h1v1h-1zM55 236h1v2h-1zM56 235h1v1h-1zM57 234h1v1h-1zM58 233h1v1h-1zM59 232h1v1h-1zM60 231h1v1h-1zM61 230h1v1h-1zM62 229h1v1h-1zM63 228h1v1h-1zM64 226h1v2h-1zM65 224h1v2h-1zM66 223h1v1h-1zM67 221h1v2h-1zM68 219h1v2h-1zM69 217h1v2h-1zM70 215h1v2h-1zM71 213h1v2h-1zM72 211h1v2h-1zM73 209h1v2h-1zM74 207h1v2h-1zM75 205h1v2h-1zM76 203h1v2h-1zM77 201h1v2h-1zM78 198h1v3h-1zM79 195h1v3h-1zM80 191h1v4h-1zM81 188h1v3h-1zM82 186h1v2h-1zM83 185h1v1h-1zM84 184h1v1h-1zM85 183h1v1h-1zM86 182h1v1h-1zM87 181h1v1h-1zM88 180h1v1h-1zM89 179h3v1h-3zM92 178h2v1h-2zM94 177h1v1h-1zM95 176h1v1h-1zM96 175h2v1h-2zM98 174h1v1h-1zM99 173h1v1h-1zM100 172h1v1h-1zM101 171h1v1h-1zM102 170h1v1h-1zM103 169h2v1h-2zM105 168h1v1h-1zM106 167h2v1h-2zM108 166h1v1h-1zM109 165h2v1h-2zM111 164h1v1h-1zM112 163h1v1h-1zM113 162h1v1h-1zM114 161h2v1h-2zM116 160h1v1h-1zM117 159h1v1h-1zM118 158h1v1h-1zM119 157h1v1h-1zM120 156h1v1h-1zM121 155h1v1h-1zM122 154h1v1h-1zM123 153h1v1h-1zM124 152h1v1h-1zM125 151h1v1h-1zM126 150h2v1h-2zM128 149h2v1h-2zM130 148h4v1h-4zM134 149h1v1h-1zM135 148h1v1h-1zM136 147h1v1h-1zM137 146h1v1h-1zM138 144h1v2h-1zM139 143h1v1h-1zM140 142h1v1h-1zM141 140h1v2h-1zM142 138h1v2h-1zM143 136h1v2h-1zM144 134h1v2h-1zM145 132h1v2h-1zM146 130h1v2h-1zM147 128h1v2h-1zM148 126h1v2h-1zM149 124h1v2h-1zM150 122h1v2h-1zM151 120h1v2h-1zM152 119h1v1h-1zM153 118h1v1h-1zM154 117h1v1h-1zM155 116h1v1h-1zM156 115h1v1h-1zM157 114h1v1h-1zM158 113h1v1h-1zM159 112h1v1h-1zM160 111h1v1h-1zM161 110h1v1h-1zM162 109h1v1h-1zM163 107h1v2h-1zM164 104h1v3h-1zM165 103h1v1h-1zM166 102h2v1h-2zM168 101h2v1h-2zM170 100h2v1h-2zM172 99h2v1h-2zM174 98h2v1h-2zM176 97h2v1h-2zM178 96h7v1h-7zM185 97h5v1h-5zM190 98h2v1h-2zM192 99h1v1h-1zM193 100h1v1h-1zM194 101h1v1h-1zM195 102h1v1h-1zM196 103h1v1h-1zM197 103h1v2h-1zM198 105h1v1h-1zM199 106h1v1h-1zM200 107h1v2h-1zM201 109h1v2h-1zM202 111h1v2h-1zM203 113h1v2h-1zM204 115h1v2h-1zM205 117h1v1h-1zM206 118h1v2h-1zM207 120h1v1h-1zM208 121h1v2h-1zM209 123h1v2h-1zM210 125h1v1h-1zM211 126h1v2h-1zM212 128h1v2h-1zM213 130h1v1h-1zM214 131h1v2h-1zM215 133h1v2h-1zM216 135h1v2h-1zM217 137h1v2h-1zM218 139h1v2h-1zM219 141h1v2h-1zM220 143h1v2h-1zM221 145h1v2h-1zM222 147h1v2h-1zM223 149h1v2h-1zM224 151h1v1h-1zM225 152h1v2h-1zM226 154h1v2h-1zM227 156h1v2h-1zM228 158h1v2h-1zM229 160h1v1h-1zM230 161h1v2h-1zM231 163h1v2h-1zM232 165h1v2h-1zM233 167h1v1h-1zM234 168h1v2h-1zM235 170h1v1h-1zM236 171h1v2h-1zM237 173h1v2h-1zM238 175h1v1h-1zM239 176h1v1h-1zM240 177h1v1h-1zM241 178h1v2h-1zM242 180h1v1h-1zM243 181h1v1h-1zM244 182h1v1h-1zM245 183h1v1h-1zM246 184h1v2h-1zM247 186h1v2h-1zM248 188h1v1h-1zM249 189h1v2h-1zM250 191h1v2h-1zM251 193h1v3h-1zM252 196h1v2h-1zM253 198h1v3h-1zM254 201h1v2h-1zM255 203h1v2h-1zM256 205h1v1h-1zM257 206h1v2h-1zM258 208h1v1h-1zM259 209h1v2h-1zM260 211h1v1h-1zM261 212h1v1h-1zM262 213h1v1h-1zM263 214h1v1h-1zM264 215h1v1h-1zM265 216h1v1h-1zM266 217h1v1h-1zM267 218h1v1h-1zM268 219h2v1h-2zM270 220h1v1h-1zM271 221h2v1h-2zM273 222h1v1h-1zM274 223h1v1h-1zM275 224h1v1h-1zM276 225h1v1h-1zM277 226h1v2h-1zM278 228h1v1h-1zM279 229h1v1h-1zM280 230h1v1h-1zM281 231h2v1h-2zM283 232h2v1h-2zM285 233h1v1h-1zM286 234h2v1h-2zM288 235h1v1h-1zM289 236h1v1h-1zM290 237h1v1h-1zM291 238h1v1h-1zM292 239h1v1h-1zM293 240h1v2h-1zM294 242h1v1h-1zM295 243h1v2h-1zM296 245h1v1h-1zM297 246h1v3h-1zM298 249h1v2h-1zM299 251h1v2h-1zM300 253h1v3h-1zM301 256h1v2h-1zM302 258h1v1h-1zM303 259h1v2h-1zM304 261h1v1h-1zM305 262h1v2h-1zM306 264h1v1h-1zM307 265h1v1h-1zM308 266h1v1h-1zM309 267h1v1h-1zM310 268h1v2h-1zM311 270h1v2h-1zM312 272h1v1h-1zM313 273h1v2h-1zM314 275h1v2h-1zM315 277h1v1h-1zM316 278h1v2h-1zM317 280h1v2h-1zM318 282h1v1h-1zM319 283h1v2h-1zM320 285h1v1h-1zM321 286h1v2h-1zM322 288h1v1h-1zM323 289h1v2h-1zM324 291h1v1h-1zM325 292h1v1h-1zM326 293h1v1h-1zM327 294h1v1h-1zM328 295h1v1h-1zM329 296h1v2h-1zM330 298h1v1h-1zM331 299h1v1h-1zM332 300h1v1h-1zM333 301h1v1h-1zM334 302h1v1h-1zM335 303h1v1h-1zM336 304h1v1h-1zM337 305h1v1h-1zM338 306h1v1h-1zM339 307h1v1h-1zM340 308h1v1h-1zM341 309h1v1h-1zM342 310h1v1h-1zM343 311h1v1h-1zM344 312h1v1h-1zM345 313h1v1h-1zM346 314h1v1h-1zM347 315h1v1h-1zM348 316h2v1h-2zM350 317h2v1h-2zM352 318h1v1h-1zM353 317h3v1h-3zM356 316h2v1h-2zM358 315h2v1h-2zM360 314h1v1h-1zM361 313h2v1h-2zM363 311h1v2h-1zM364 308h1v3h-1zM365 304h1v4h-1zM366 301h1v3h-1zM367 299h1v2h-1zM368 297h1v2h-1zM369 294h1v3h-1zM370 292h1v2h-1zM371 290h1v2h-1zM372 288h1v2h-1zM373 286h1v2h-1zM374 284h1v2h-1zM375 282h1v2h-1zM376 280h1v2h-1zM377 278h1v2h-1zM378 276h1v2h-1zM379 274h1v2h-1zM380 272h1v2h-1zM381 270h1v2h-1zM382 268h1v2h-1zM383 266h1v2h-1zM384 264h1v2h-1zM385 262h1v2h-1zM386 261h1v1h-1zM387 259h1v2h-1zM388 257h1v2h-1zM389 256h1v1h-1zM390 254h1v2h-1zM391 252h1v2h-1zM392 251h1v1h-1zM393 249h1v2h-1zM394 247h1v2h-1zM395 244h1v3h-1zM396 242h1v2h-1zM397 240h1v2h-1zM398 238h1v2h-1zM399 235h1v3h-1zM400 234h1v1h-1zM401 232h1v2h-1zM402 230h1v2h-1zM403 228h1v2h-1zM404 227h1v1h-1zM405 225h1v2h-1zM406 223h1v2h-1zM407 222h1v1h-1zM408 221h1v1h-1zM409 219h1v2h-1zM410 218h1v1h-1zM411 217h1v1h-1zM412 216h1v1h-1zM413 214h1v2h-1zM414 213h1v1h-1zM415 212h1v1h-1zM416 211h1v1h-1zM417 210h1v1h-1zM418 209h1v1h-1zM419 208h1v1h-1zM420 207h2v1h-2zM422 206h1v1h-1zM423 205h1v1h-1zM424 204h1v1h-1zM425 203h4v1h-4zM429 202h4v1h-4zM433 201h13v1h-13zM446 200h4v1h-4zM450 199h2v1h-2zM452 198h1v1h-1zM453 197h2v1h-2zM455 196h17v1h-17zM472 195h2v1h-2zM474 194h2v1h-2zM476 193h2v1h-2zM478 192h1v1h-1zM479 191h1v1h-1zM480 190h5v1h-5zM485 191h2v1h-2zM487 192h2v1h-2zM489 193h4v1h-4zM493 194h7v1h-7zM500 195h4v1h-4zM504 196h3v1h-3zM507 197h8v1h-8zM515 196h3v1h-3zM518 195h11v1h-11zM529 196h1v1h-1zM530 197h2v1h-2zM532 198h1v1h-1zM533 199h2v1h-2zM535 200h3v1h-3zM538 199h2v1h-2zM540 198h1v1h-1zM541 197h1v1h-1zM542 196h1v1h-1zM543 195h1v1h-1zM544 194h1v1h-1zM545 193h2v1h-2zM547 192h1v1h-1zM548 191h2v1h-2zM550 190h4v1h-4zM554 189h7v1h-7zM561 188h3v1h-3zM564 187h5v1h-5zM569 188h2v1h-2zM571 189h2v1h-2zM573 190h2v1h-2zM575 191h2v1h-2zM577 192h2v1h-2zM579 193h2v1h-2zM581 194h2v1h-2zM583 195h1v1h-1zM584 196h1v1h-1zM585 197h2v1h-2zM587 198h1v1h-1zM588 199h1v1h-1zM589 200h1v1h-1zM590 201h1v1h-1zM591 202h1v1h-1zM592 203h1v1h-1zM593 204h1v1h-1zM594 205h1v1h-1zM595 206h2v1h-2zM597 207h1v1h-1zM598 208h2v1h-2zM600 209h1v1h-1zM601 210h1v1h-1zM602 211h1v1h-1zM603 212h1v2h-1zM604 214h1v1h-1zM605 215h1v1h-1zM606 216h1v1h-1zM607 217h1v1h-1zM608 218h1v1h-1zM609 219h1v1h-1zM610 220h1v1h-1zM611 221h1v1h-1zM612 222h2v1h-2zM614 223h1v1h-1zM615 224h2v1h-2zM617 225h1v1h-1zM618 226h2v1h-2zM620 227h1v1h-1zM621 228h1v1h-1zM622 229h1v2h-1zM623 231h1v1h-1zM624 232h4v1h-4zM628 233h4v1h-4zM632 232h1v1h-1zM633 231h1v1h-1zM634 230h2v1h-2zM636 229h1v1h-1zM637 228h1v1h-1zM638 227h2v1h-2zM640 226h2v1h-2zM642 225h2v1h-2zM644 224h2v1h-2zM646 223h6v1h-6zM652 222h2v1h-2zM654 221h2v1h-2zM656 220h2v1h-2zM658 219h3v1h-3zM661 218h8v1h-8zM669 217h3v1h-3zM672 216h3v1h-3zM675 215h3v1h-3zM678 214h4v1h-4zM682 213h2v1h-2zM684 214h2v1h-2zM686 215h2v1h-2zM688 216h2v1h-2zM690 217h1v1h-1zM691 218h1v1h-1zM692 219h4v1h-4zM696 220h2v1h-2zM698 221h2v1h-2zM700 222h1v1h-1zM701 223h1v1h-1zM702 224h1v1h-1zM703 225h1v1h-1zM704 226h1v1h-1zM705 227h1v1h-1zM706 228h1v1h-1zM707 229h2v1h-2zM709 230h1v1h-1zM710 231h1v1h-1zM711 232h1v2h-1zM712 234h1v1h-1zM713 235h1v1h-1zM714 236h1v2h-1zM715 238h1v1h-1zM716 239h1v2h-1zM717 241h1v2h-1zM718 243h1v2h-1zM719 245h1v2h-1zM720 247h1v1h-1zM721 248h1v2h-1zM722 250h1v1h-1zM723 251h1v1h-1zM724 252h1v1h-1zM725 253h1v1h-1zM726 254h1v1h-1zM727 255h1v1h-1zM728 256h1v2h-1zM729 258h1v2h-1zM730 260h1v1h-1zM731 261h1v2h-1zM732 263h1v2h-1zM733 265h1v1h-1zM734 266h1v2h-1zM735 268h1v2h-1zM736 270h1v2h-1zM737 272h1v2h-1zM738 274h1v1h-1zM739 275h1v2h-1zM740 277h1v1h-1zM741 278h1v2h-1zM742 280h1v1h-1zM743 281h1v1h-1zM744 282h1v2h-1zM745 284h1v1h-1zM746 285h1v1h-1zM747 286h1v2h-1zM748 288h1v1h-1zM749 289h1v1h-1zM750 290h1v1h-1zM751 291h1v2h-1zM752 293h1v1h-1zM753 294h1v1h-1zM754 295h1v1h-1zM755 296h1v1h-1zM756 297h1v2h-1zM757 299h1v1h-1zM758 300h1v1h-1zM759 301h1v2h-1zM760 303h1v1h-1zM761 304h1v1h-1zM762 305h1v1h-1zM763 306h1v1h-1zM764 307h1v2h-1zM765 309h2v1h-2zM767 310h2v1h-2zM769 311h3v1h-3zM772 312h1v1h-1zM773 311h12v1h-12zM785 310h2v1h-2zM787 309h2v1h-2zM789 308h4v1h-4zM793 309h4v1h-4zM797 310h3v1h-3zM800 311h3v1h-3zM803 312h2v1h-2zM805 313h4v1h-4zM809 314h7v1h-7zM816 315h8v1h-8zM824 316h11v1h-11zM835 317h1v1h-1zM836 318h2v1h-2zM838 319h1v1h-1zM839 320h3v1h-3zM842 321h4v1h-4zM846 322h4v1h-4zM850 323h5v1h-5zM855 324h4v1h-4zM859 325h1v1h-1zM860 326h1v1h-1zM861 327h1v1h-1zM862 328h2v1h-2zM864 329h4v1h-4zM868 330h2v1h-2zM870 331h2v1h-2zM872 332h3v1h-3zM875 333h3v1h-3zM878 334h3v1h-3zM881 335h2v1h-2zM883 336h4v1h-4zM887 337h10v1h-10zM897 336h15v1h-15zM912 335h2v1h-2zM914 334h2v1h-2zM916 333h1v1h-1zM917 332h6v1h-6z" fill="#ff0000"/>
<path d="M3 208h5v1h-5zM8 209h2v1h-2zM10 210h1v1h-1zM11 211h2v1h-2zM13 212h1v1h-1zM14 213h1v1h-1zM15 214h1v1h-1zM16 215h1v1h-1zM17 216h1v1h-1zM18 217h1v1h-1zM19 218h1v1h-1zM20 219h1v1h-1zM21 220h1v1h-1zM22 221h1v1h-1zM23 222h2v1h-2zM25 223h1v1h-1zM26 224h1v1h-1zM27 225h1v1h-1zM28 226h6v1h-6zM34 227h2v1h-2zM36 228h1v1h-1zM37 229h1v1h-1zM38 230h2v1h-2zM40 231h19v1h-19zM59 230h5v1h-5zM64 229h3v1h-3zM67 228h2v1h-2zM69 227h2v1h-2zM71 226h2v1h-2zM73 225h1v1h-1zM74 224h1v1h-1zM75 223h2v1h-2zM77 222h1v1h-1zM78 221h1v1h-1zM79 220h1v1h-1zM80 219h1v1h-1zM81 217h1v2h-1zM82 216h1v1h-1zM83 214h1v2h-1zM84 213h1v1h-1zM85 211h1v2h-1zM86 210h1v1h-1zM87 209h1v1h-1zM88 208h1v1h-1zM89 207h1v1h-1zM90 206h1v1h-1zM91 205h1v1h-1zM92 204h1v1h-1zM93 203h1v1h-1zM94 202h1v1h-1zM95 200h1v2h-1zM96 199h1v1h-1zM97 197h1v2h-1zM98 196h1v1h-1zM99 195h1v1h-1zM100 193h1v2h-1zM101 192h1v1h-1zM102 191h1v1h-1zM103 189h1v2h-1zM104 188h1v1h-1zM105 187h1v1h-1zM106 186h1v1h-1zM107 185h1v1h-1zM108 184h1v1h-1zM109 183h1v1h-1zM110 182h1v1h-1zM111 181h1v1h-1zM112 180h1v1h-1zM113 179h1v1h-1zM114 178h1v1h-1zM115 177h1v1h-1zM116 176h1v1h-1zM117 175h1v1h-1zM118 174h1v1h-1zM119 173h1v1h-1zM120 172h1v1h-1zM121 171h1v1h-1zM122 170h1v1h-1zM123 169h1v1h-1zM124 168h1v1h-1zM125 167h1v1h-1zM126 166h1v1h-1zM127 165h1v1h-1zM128 163h1v2h-1zM129 161h1v2h-1zM130 160h1v1h-1zM131 158h1v2h-1zM132 158h1v1h-1zM133 157h1v1h-1zM134 156h2v1h-2zM136 155h1v1h-1zM137 154h1v1h-1zM138 153h1v1h-1zM139 151h1v2h-1zM140 150h1v1h-1zM141 149h1v1h-1zM142 147h1v2h-1zM143 145h1v2h-1zM144 143h1v2h-1zM145 141h1v2h-1zM146 140h1v1h-1zM147 138h1v2h-1zM148 136h1v2h-1zM149 135h1v1h-1zM150 133h1v2h-1zM151 131h1v2h-1zM152 130h1v1h-1zM153 129h1v1h-1zM154 128h1v1h-1zM155 127h1v1h-1zM156 126h7v1h-7zM163 125h2v1h-2zM165 124h2v1h-2zM167 123h2v1h-2zM169 121h1v2h-1zM170 120h1v1h-1zM171 119h1v1h-1zM172 118h1v1h-1zM173 117h1v1h-1zM174 116h1v1h-1zM175 115h1v1h-1zM176 114h1v1h-1zM177 113h1v1h-1zM178 112h1v1h-1zM179 111h2v1h-2zM181 110h2v1h-2zM183 109h2v1h-2zM185 108h2v1h-2zM187 107h3v1h-3zM190 106h12v1h-12zM202 107h4v1h-4zM206 108h1v1h-1zM207 109h1v1h-1zM208 110h2v1h-2zM210 111h1v1h-1zM211 112h1v1h-1zM212 113h1v1h-1zM213 114h1v1h-1zM214 115h1v1h-1zM215 116h1v1h-1zM216 117h1v1h-1zM217 118h1v1h-1zM218 119h2v1h-2zM220 120h1v2h-1zM221 122h1v2h-1zM222 124h1v2h-1zM223 126h1v2h-1zM224 128h1v1h-1zM225 129h1v2h-1zM226 131h1v2h-1zM227 133h1v2h-1zM228 135h1v1h-1zM229 136h1v2h-1zM230 138h1v2h-1zM231 140h1v1h-1zM232 141h1v2h-1zM233 143h1v1h-1zM234 144h1v1h-1zM235 145h1v1h-1zM236 146h1v2h-1zM237 148h1v1h-1zM238 149h1v1h-1zM239 150h1v1h-1zM240 151h1v1h-1zM241 152h1v1h-1zM242 153h1v1h-1zM243 154h1v1h-1zM244 155h1v1h-1zM245 156h1v1h-1zM246 157h1v1h-1zM247 158h1v2h-1zM248 160h1v2h-1zM249 162h1v2h-1zM250 164h1v2h-1zM251 166h1v2h-1zM252 168h1v3h-1zM253 171h1v2h-1zM254 173h1v3h-1zM255 176h1v3h-1zM256 179h1v3h-1zM257 182h1v1h-1zM258 183h1v2h-1zM259 185h1v1h-1zM260 186h1v2h-1zM261 188h1v2h-1zM262 190h1v1h-1zM263 191h1v1h-1zM264 192h1v2h-1zM265 194h1v1h-1zM266 195h1v2h-1zM267 197h1v1h-1zM268 198h1v1h-1zM269 199h1v2h-1zM270 201h1v1h-1zM271 202h1v2h-1zM272 204h1v1h-1zM273 205h1v1h-1zM274 206h1v2h-1zM275 208h1v1h-1zM276 209h1v2h-1zM277 211h1v1h-1zM278 212h1v1h-1zM279 213h1v1h-1zM280 214h1v2h-1zM281 216h1v1h-1zM282 217h1v1h-1zM283 218h1v1h-1zM284 219h1v1h-1zM285 220h1v1h-1zM286 221h1v1h-1zM287 222h1v1h-1zM288 223h1v1h-1zM289 224h2v1h-2zM291 225h1v1h-1zM292 226h1v1h-1zM293 227h1v1h-1zM294 227h1v2h-1zM295 229h1v1h-1zM296 230h1v1h-1zM297 231h1v1h-1zM298 232h1v1h-1zM299 233h1v1h-1zM300 234h1v2h-1zM301 236h1v2h-1zM302 238h1v2h-1zM303 240h1v2h-1zM304 242h1v2h-1zM305 244h1v1h-1zM306 245h1v2h-1zM307 247h1v1h-1zM308 248h1v1h-1zM309 249h1v2h-1zM310 251h1v1h-1zM311 252h1v2h-1zM312 254h1v2h-1zM313 256h1v1h-1zM314 257h1v2h-1zM315 259h1v2h-1zM316 261h1v2h-1zM317 263h1v1h-1zM318 264h1v2h-1zM319 266h1v1h-1zM320 267h1v2h-1zM321 269h1v2h-1zM322 271h1v1h-1zM323 272h1v2h-1zM324 274h1v1h-1zM325 275h1v1h-1zM326 276h1v1h-1zM327 277h1v1h-1zM328 278h1v2h-1zM329 280h1v1h-1zM330 281h2v1h-2zM332 282h2v1h-2zM334 283h2v1h-2zM336 284h2v1h-2zM338 285h1v1h-1zM339 286h1v1h-1zM340 287h2v1h-2zM342 288h2v1h-2zM344 289h1v1h-1zM345 290h1v1h-1zM346 291h1v1h-1zM347 292h2v1h-2zM349 293h1v1h-1zM350 294h1v1h-1zM351 295h1v1h-1zM352 296h1v1h-1zM353 297h1v1h-1zM354 298h2v1h-2zM356 299h1v1h-1zM357 300h2v1h-2zM359 301h8v1h-8zM367 300h2v1h-2zM369 299h2v1h-2zM371 298h2v1h-2zM373 297h2v1h-2zM375 296h1v1h-1zM376 295h1v1h-1zM377 294h1v1h-1zM378 293h1v1h-1zM379 292h1v1h-1zM380 291h1v1h-1zM381 290h1v1h-1zM382 289h1v1h-1zM383 288h1v1h-1zM384 286h1v2h-1zM385 285h1v1h-1zM386 283h1v2h-1zM387 282h1v1h-1zM388 281h1v1h-1zM389 279h1v2h-1zM390 278h1v1h-1zM391 276h1v2h-1zM392 274h1v2h-1zM393 272h1v2h-1zM394 271h1v1h-1zM395 269h1v2h-1zM396 267h1v2h-1zM397 266h1v1h-1zM398 264h1v2h-1zM399 263h1v1h-1zM400 261h1v2h-1zM401 259h1v2h-1zM402 258h1v1h-1zM403 257h1v1h-1zM404 256h1v1h-1zM405 255h1v1h-1zM406 254h1v1h-1zM407 253h1v1h-1zM408 251h1v2h-1zM409 250h1v1h-1zM410 249h1v1h-1zM411 248h1v1h-1zM412 246h1v2h-1zM413 245h1v1h-1zM414 243h1v2h-1zM415 242h1v1h-1zM416 241h1v1h-1zM417 239h1v2h-1zM418 238h1v1h-1zM419 236h1v2h-1zM420 234h1v2h-1zM421 232h1v2h-1zM422 231h1v1h-1zM423 229h1v2h-1zM424 227h1v2h-1zM425 226h1v1h-1zM426 224h1v2h-1zM427 223h1v1h-1zM428 221h1v2h-1zM429 220h1v1h-1zM430 218h1v2h-1zM431 217h1v1h-1zM432 216h1v1h-1zM433 215h1v1h-1zM434 214h1v1h-1zM435 213h1v1h-1zM436 212h1v1h-1zM437 211h1v1h-1zM438 210h1v1h-1zM439 209h1v1h-1zM440 208h1v1h-1zM441 207h1v1h-1zM442 206h2v1h-2zM444 205h1v1h-1zM445 204h2v1h-2zM447 203h2v1h-2zM449 202h2v1h-2zM451 201h5v1h-5zM456 200h9v1h-9zM465 199h8v1h-8zM473 198h4v1h-4zM477 197h1v1h-1zM478 196h1v1h-1zM479 195h2v1h-2zM481 194h1v1h-1zM482 193h10v1h-10zM492 194h4v1h-4zM496 195h9v1h-9zM505 196h4v1h-4zM509 197h7v1h-7zM516 196h19v1h-19zM535 197h1v1h-1zM536 196h5v1h-5zM541 195h2v1h-2zM543 194h1v1h-1zM544 193h2v1h-2zM546 192h3v1h-3zM549 191h3v1h-3zM552 190h3v1h-3zM555 191h6v1h-6zM561 192h4v1h-4zM565 193h4v1h-4zM569 194h6v1h-6zM575 195h6v1h-6zM581 196h3v1h-3zM584 197h3v1h-3zM587 198h3v1h-3zM590 199h3v1h-3zM593 200h3v1h-3zM596 201h3v1h-3zM599 202h2v1h-2zM601 203h2v1h-2zM603 204h2v1h-2zM605 205h2v1h-2zM607 206h2v1h-2zM609 207h2v1h-2zM611 208h2v1h-2zM613 209h2v1h-2zM615 210h2v1h-2zM617 211h1v1h-1zM618 212h1v1h-1zM619 213h1v1h-1zM620 214h1v1h-1zM621 215h1v1h-1zM622 216h2v1h-2zM624 217h1v1h-1zM625 218h2v1h-2zM627 219h3v1h-3zM630 220h2v1h-2zM632 221h2v1h-2zM634 222h12v1h-12zM646 223h17v1h-17zM663 222h16v1h-16zM679 223h18v1h-18zM697 222h13v1h-13zM710 223h1v1h-1zM711 224h2v1h-2zM713 225h1v1h-1zM714 226h1v2h-1zM715 228h1v1h-1zM716 229h1v1h-1zM717 230h1v2h-1zM718 232h1v1h-1zM719 233h1v2h-1zM720 235h1v1h-1zM721 236h1v1h-1zM722 237h1v1h-1zM723 238h1v1h-1zM724 239h1v1h-1zM725 240h1v1h-1zM726 241h1v2h-1zM727 243h1v1h-1zM728 244h1v1h-1zM729 245h1v2h-1zM730 247h1v1h-1zM731 248h1v1h-1zM732 249h1v2h-1zM733 251h1v1h-1zM734 252h1v1h-1zM735 253h1v2h-1zM736 255h1v1h-1zM737 256h1v1h-1zM738 257h1v2h-1zM739 259h1v1h-1zM740 260h1v1h-1zM741 261h1v2h-1zM742 263h1v1h-1zM743 264h1v1h-1zM744 265h1v2h-1zM745 267h1v1h-1zM746 268h1v2h-1zM747 270h2v1h-2zM749 271h1v1h-1zM750 272h1v1h-1zM751 273h2v1h-2zM753 274h1v1h-1zM754 275h1v1h-1zM755 276h2v1h-2zM757 277h1v1h-1zM758 278h1v1h-1zM759 279h1v1h-1zM760 280h2v1h-2zM762 281h1v1h-1zM763 282h1v1h-1zM764 283h1v1h-1zM765 284h1v1h-1zM766 285h1v1h-1zM767 286h1v1h-1zM768 287h1v1h-1zM769 288h1v1h-1zM770 289h1v1h-1zM771 290h1v1h-1zM772 291h1v1h-1zM773 292h1v1h-1zM774 293h1v1h-1zM775 294h1v1h-1zM776 295h1v1h-1zM777 296h2v1h-2zM779 297h1v1h-1zM780 298h2v1h-2zM782 299h1v1h-1zM783 300h2v1h-2zM785 301h1v1h-1zM786 302h2v1h-2zM788 303h1v2h-1zM789 305h1v1h-1zM790 306h1v1h-1zM791 307h1v1h-1zM792 308h1v1h-1zM793 309h1v1h-1zM794 310h1v1h-1zM795 311h6v1h-6zM801 312h2v1h-2zM803 313h3v1h-3zM806 314h14v1h-14zM820 313h17v1h-17zM837 314h2v1h-2zM839 315h3v1h-3zM842 316h2v1h-2zM844 317h3v1h-3zM847 318h3v1h-3zM850 319h2v1h-2zM852 320h3v1h-3zM855 321h3v1h-3zM858 322h2v1h-2zM860 323h1v1h-1zM861 324h1v1h-1zM862 325h1v1h-1zM863 326h5v1h-5zM868 327h3v1h-3zM871 328h3v1h-3zM874 329h10v1h-10zM884 330h15v1h-15zM899 331h5v1h-5zM904 332h4v1h-4zM908 333h3v1h-3zM911 334h3v1h-3zM914 335h3v1h-3zM917 336h6v1h-6z" fill="#0000d0"/>
<rect x="2" y="438" width="3" height="16" fill="#c0c0c0"/>
<rect x="6" y="438" width="3" height="18" fill="#c0c0c0"/>
<rect x="10" y="438" width="3" height="20" fill="#c0c0c0"/>
<rect x="14" y="438" width="3" height="22" fill="#c0c0c0"/>
<rect x="18" y="438" width="3" height="24" fill="#c0c0c0"/>
<rect x="22" y="438" width="3" height="23" fill="#c0c0c0"/>
<rect x="26" y="438" width="3" height="21" fill="#c0c0c0"/>
<rect x="30" y="438" width="3" height="17" fill="#c0c0c0"/>
<rect x="34" y="438" width="3" height="14" fill="#c0c0c0"/>
<rect x="38" y="438" width="3" height="11" fill="#c0c0c0"/>
<rect x="42" y="438" width="3" height="9" fill="#c0c0c0"/>
<rect x="46" y="438" width="3" height="9" fill="#c0c0c0"/>
<rect x="50" y="438" width="3" height="4" fill="#c0c0c0"/>
<rect x="54" y="438" width="3" height="1" fill="#c0c0c0"/>
<rect x="58" y="437" width="3" height="1" fill="#c0c0c0"/>
<rect x="62" y="436" width="3" height="2" fill="#c0c0c0"/>
<rect x="66" y="435" width="3" height="3" fill="#c0c0c0"/>
<rect x="70" y="433" width="3" height="5" fill="#c0c0c0"/>
<rect x="74" y="429" width="3" height="9" fill="#c0c0c0"/>
<rect x="78" y="423" width="3" height="15" fill="#c0c0c0"/>
<rect x="82" y="421" width="3" height="17" fill="#c0c0c0"/>
<rect x="86" y="422" width="3" height="16" fill="#c0c0c0"/>
<rect x="90" y="424" width="3" height="14" fill="#c0c0c0"/>
<rect x="94" y="424" width="3" height="14" fill="#c0c0c0"/>
<rect x="98" y="425" width="3" height="13" fill="#c0c0c0"/>
<rect x="102" y="426" width="3" height="12" fill="#c0c0c0"/>
<rect x="106" y="427" width="3" height="11" fill="#c0c0c0"/>
<rect x="110" y="426" width="3" height="12" fill="#c0c0c0"/>
<rect x="114" y="426" width="3" height="12" fill="#c0c0c0"/>
<rect x="118" y="426" width="3" height="12" fill="#c0c0c0"/>
<rect x="122" y="425" width="3" height="13" fill="#c0c0c0"/>
<rect x="126" y="423" width="3" height="15" fill="#c0c0c0"/>
<rect x="130" y="420" width="3" height="18" fill="#c0c0c0"/>
<rect x="134" y="419" width="3" height="19" fill="#c0c0c0"/>
<rect x="138" y="419" width="3" height="19" fill="#c0c0c0"/>
<rect x="142" y="417" width="3" height="21" fill="#c0c0c0"/>
<rect x="146" y="415" width="3" height="23" fill="#c0c0c0"/>
<rect x="150" y="412" width="3" height="26" fill="#c0c0c0"/>
<rect x="154" y="412" width="3" height="26" fill="#c0c0c0"/>
<rect x="158" y="414" width="3" height="24" fill="#c0c0c0"/>
<rect x="162" y="415" width="3" height="23" fill="#c0c0c0"/>
<rect x="166" y="416" width="3" height="22" fill="#c0c0c0"/>
<rect x="170" y="416" width="3" height="22" fill="#c0c0c0"/>
<rect x="174" y="418" width="3" height="20" fill="#c0c0c0"/>
<rect x="178" y="420" width="3" height="18" fill="#c0c0c0"/>
<rect x="182" y="423" width="3" height="15" fill="#c0c0c0"/>
<rect x="186" y="425" width="3" height="13" fill="#c0c0c0"/>
<rect x="190" y="428" width="3" height="10" fill="#c0c0c0"/>
<rect x="194" y="431" width="3" height="7" fill="#c0c0c0"/>
<rect x="198" y="435" width="3" height="3" fill="#c0c0c0"/>
<rect x="202" y="438" width="3" height="2" fill="#c0c0c0"/>
<rect x="206" y="438" width="3" height="4" fill="#c0c0c0"/>
<rect x="210" y="438" width="3" height="7" fill="#c0c0c0"/>
<rect x="214" y="438" width="3" height="10" fill="#c0c0c0"/>
<rect x="218" y="438" width="3" height="12" fill="#c0c0c0"/>
<rect x="222" y="438" width="3" height="14" fill="#c0c0c0"/>
<rect x="226" y="438" width="3" height="16" fill="#c0c0c0"/>
<rect x="230" y="438" width="3" height="17" fill="#c0c0c0"/>
<rect x="234" y="438" width="3" height="18" fill="#c0c0c0"/>
<rect x="238" y="438" width="3" height="17" fill="#c0c0c0"/>
<rect x="242" y="438" width="3" height="16" fill="#c0c0c0"/>
<rect x="246" y="438" width="3" height="17" fill="#c0c0c0"/>
<rect x="250" y="438" width="3" height="22" fill="#c0c0c0"/>
<rect x="254" y="438" width="3" height="25" fill="#c0c0c0"/>
<rect x="258" y="438" width="3" height="26" fill="#c0c0c0"/>
<rect x="262" y="438" width="3" height="25" fill="#c0c0c0"/>
<rect x="266" y="438" width="3" height="24" fill="#c0c0c0"/>
<rect x="270" y="438" width="3" height="24" fill="#c0c0c0"/>
<rect x="274" y="438" width="3" height="24" fill="#c0c0c0"/>
<rect x="278" y="438" width="3" height="25" fill="#c0c0c0"/>
<rect x="282" y="438" width="3" height="24" fill="#c0c0c0"/>
<rect x="286" y="438" width="3" height="23" fill="#c0c0c0"/>
<rect x="290" y="438" width="3" height="22" fill="#c0c0c0"/>
<rect x="294" y="438" width="3" height="23" fill="#c0c0c0"/>
<rect x="298" y="438" width="3" height="24" fill="#c0c0c0"/>
<rect x="302" y="438" width="3" height="27" fill="#c0c0c0"/>
<rect x="306" y="438" width="3" height="30" fill="#c0c0c0"/>
<rect x="310" y="438" width="3" height="33" fill="#c0c0c0"/>
<rect x="314" y="438" width="3" height="34" fill="#c0c0c0"/>
<rect x="318" y="438" width="3" height="34" fill="#c0c0c0"/>
<rect x="322" y="438" width="3" height="33" fill="#c0c0c0"/>
<rect x="326" y="438" width="3" height="31" fill="#c0c0c0"/>
<rect x="330" y="438" width="3" height="29" fill="#c0c0c0"/>
<rect x="334" y="438" width="3" height="28" fill="#c0c0c0"/>
<rect x="338" y="438" width="3" height="25" fill="#c0c0c0"/>
<rect x="342" y="438" width="3" height="24" fill="#c0c0c0"/>
<rect x="346" y="438" width="3" height="23" fill="#c0c0c0"/>
<rect x="350" y="438" width="3" height="22" fill="#c0c0c0"/>
<rect x="354" y="438" width="3" height="19" fill="#c0c0c0"/>
<rect x="358" y="438" width="3" height="16" fill="#c0c0c0"/>
<rect x="362" y="438" width="3" height="11" fill="#c0c0c0"/>
<rect x="366" y="438" width="3" height="6" fill="#c0c0c0"/>
<rect x="370" y="438" width="3" height="2" fill="#c0c0c0"/>
<rect x="374" y="434" width="3" height="4" fill="#c0c0c0"/>
<rect x="378" y="430" width="3" height="8" fill="#c0c0c0"/>
<rect x="382" y="426" width="3" height="12" fill="#c0c0c0"/>
<rect x="386" y="424" width="3" height="14" fill="#c0c0c0"/>
<rect x="390" y="424" width="3" height="14" fill="#c0c0c0"/>
<rect x="394" y="423" width="3" height="15" fill="#c0c0c0"/>
<rect x="398" y="423" width="3" height="15" fill="#c0c0c0"/>
<rect x="402" y="423" width="3" height="15" fill="#c0c0c0"/>
<rect x="406" y="422" width="3" height="16" fill="#c0c0c0"/>
<rect x="410" y="422" width="3" height="16" fill="#c0c0c0"/>
<rect x="414" y="423" width="3" height="15" fill="#c0c0c0"/>
<rect x="418" y="422" width="3" height="16" fill="#c0c0c0"/>
<rect x="422" y="422" width="3" height="16" fill="#c0c0c0"/>
<rect x="426" y="421" width="3" height="17" fill="#c0c0c0"/>
<rect x="430" y="421" width="3" height="17" fill="#c0c0c0"/>
<rect x="434" y="422" width="3" height="16" fill="#c0c0c0"/>
<rect x="438" y="423" width="3" height="15" fill="#c0c0c0"/>
<rect x="442" y="424" width="3" height="14" fill="#c0c0c0"/>
<rect x="446" y="426" width="3" height="12" fill="#c0c0c0"/>
<rect x="450" y="426" width="3" height="12" fill="#c0c0c0"/>
<rect x="454" y="425" width="3" height="13" fill="#c0c0c0"/>
<rect x="458" y="424" width="3" height="14" fill="#c0c0c0"/>
<rect x="462" y="427" width="3" height="11" fill="#c0c0c0"/>
<rect x="466" y="428" width="3" height="10" fill="#c0c0c0"/>
<rect x="470" y="428" width="3" height="10" fill="#c0c0c0"/>
<rect x="474" y="429" width="3" height="9" fill="#c0c0c0"/>
<rect x="478" y="425" width="3" height="13" fill="#c0c0c0"/>
<rect x="482" y="425" width="3" height="13" fill="#c0c0c0"/>
<rect x="486" y="428" width="3" height="10" fill="#c0c0c0"/>
<rect x="490" y="430" width="3" height="8" fill="#c0c0c0"/>
<rect x="494" y="432" width="3" height="6" fill="#c0c0c0"/>
<rect x="498" y="434" width="3" height="4" fill="#c0c0c0"/>
<rect x="502" y="435" width="3" height="3" fill="#c0c0c0"/>
<rect x="506" y="436" width="3" height="2" fill="#c0c0c0"/>
<rect x="510" y="436" width="3" height="2" fill="#c0c0c0"/>
<rect x="514" y="435" width="3" height="3" fill="#c0c0c0"/>
<rect x="518" y="433" width="3" height="5" fill="#c0c0c0"/>
<rect x="522" y="435" width="3" height="3" fill="#c0c0c0"/>
<rect x="526" y="435" width="3" height="3" fill="#c0c0c0"/>
<rect x="530" y="435" width="3" height="3" fill="#c0c0c0"/>
<rect x="534" y="435" width="3" height="3" fill="#c0c0c0"/>
<rect x="538" y="433" width="3" height="5" fill="#c0c0c0"/>
<rect x="542" y="433" width="3" height="5" fill="#c0c0c0"/>
<rect x="546" y="431" width="3" height="7" fill="#c0c0c0"/>
<rect x="550" y="430" width="3" height="8" fill="#c0c0c0"/>
<rect x="554" y="432" width="3" height="6" fill="#c0c0c0"/>
<rect x="558" y="434" width="3" height="4" fill="#c0c0c0"/>
<rect x="562" y="435" width="3" height="3" fill="#c0c0c0"/>
<rect x="566" y="435" width="3" height="3" fill="#c0c0c0"/>
<rect x="570" y="437" width="3" height="1" fill="#c0c0c0"/>
<rect x="574" y="438" width="3" height="1" fill="#c0c0c0"/>
<rect x="578" y="438" width="3" height="3" fill="#c0c0c0"/>
<rect x="582" y="438" width="3" height="5" fill="#c0c0c0"/>
<rect x="586" y="438" width="3" height="6" fill="#c0c0c0"/>
<rect x="590" y="438" width="3" height="8" fill="#c0c0c0"/>
<rect x="594" y="438" width="3" height="9" fill="#c0c0c0"/>
<rect x="598" y="438" width="3" height="8" fill="#c0c0c0"/>
<rect x="602" y="438" width="3" height="8" fill="#c0c0c0"/>
<rect x="606" y="438" width="3" height="8" fill="#c0c0c0"/>
<rect x="610" y="438" width="3" height="9" fill="#c0c0c0"/>
<rect x="614" y="438" width="3" height="10" fill="#c0c0c0"/>
<rect x="618" y="438" width="3" height="10" fill="#c0c0c0"/>
<rect x="622" y="438" width="3" height="12" fill="#c0c0c0"/>
<rect x="626" y="438" width="3" height="11" fill="#c0c0c0"/>
<rect x="630" y="438" width="3" height="8" fill="#c0c0c0"/>
<rect x="634" y="438" width="3" height="5" fill="#c0c0c0"/>
<rect x="638" y="438" width="3" height="2" fill="#c0c0c0"/>
<rect x="642" y="438" width="3" height="1" fill="#c0c0c0"/>
<rect x="646" y="438" width="3" height="1" fill="#c0c0c0"/>
<rect x="650" y="437" width="3" height="1" fill="#c0c0c0"/>
<rect x="654" y="438" width="3" height="1" fill="#c0c0c0"/>
<rect x="658" y="438" width="3" height="1" fill="#c0c0c0"/>
<rect x="662" y="436" width="3" height="2" fill="#c0c0c0"/>
<rect x="666" y="437" width="3" height="1" fill="#c0c0c0"/>
<rect x="670" y="438" width="3" height="3" fill="#c0c0c0"/>
<rect x="674" y="438" width="3" height="4" fill="#c0c0c0"/>
<rect x="678" y="438" width="3" height="4" fill="#c0c0c0"/>
<rect x="682" y="438" width="3" height="4" fill="#c0c0c0"/>
<rect x="686" y="438" width="3" height="4" fill="#c0c0c0"/>
<rect x="690" y="438" width="3" height="5" fill="#c0c0c0"/>
<rect x="694" y="438" width="3" height="3" fill="#c0c0c0"/>
<rect x="698" y="438" width="3" height="3" fill="#c0c0c0"/>
<rect x="702" y="438" width="3" height="6" fill="#c0c0c0"/>
<rect x="706" y="438" width="3" height="7" fill="#c0c0c0"/>
<rect x="710" y="438" width="3" height="8" fill="#c0c0c0"/>
<rect x="714" y="438" width="3" height="9" fill="#c0c0c0"/>
<rect x="718" y="438" width="3" height="15" fill="#c0c0c0"/>
<rect x="722" y="438" width="3" height="17" fill="#c0c0c0"/>
<rect x="726" y="438" width="3" height="19" fill="#c0c0c0"/>
<rect x="730" y="438" width="3" height="21" fill="#c0c0c0"/>
<rect x="734" y="438" width="3" height="23" fill="#c0c0c0"/>
<rect x="738" y="438" width="3" height="24" fill="#c0c0c0"/>
<rect x="742" y="438" width="3" height="23" fill="#c0c0c0"/>
<rect x="746" y="438" width="3" height="23" fill="#c0c0c0"/>
<rect x="750" y="438" width="3" height="21" fill="#c0c0c0"/>
<rect x="754" y="438" width="3" height="20" fill="#c0c0c0"/>
<rect x="758" y="438" width="3" height="19" fill="#c0c0c0"/>
<rect x="762" y="438" width="3" height="18" fill="#c0c0c0"/>
<rect x="766" y="438" width="3" height="17" fill="#c0c0c0"/>
<rect x="770" y="438" width="3" height="16" fill="#c0c0c0"/>
<rect x="774" y="438" width="3" height="16" fill="#c0c0c0"/>
<rect x="778" y="438" width="3" height="16" fill="#c0c0c0"/>
<rect x="782" y="438" width="3" height="14" fill="#c0c0c0"/>
<rect x="786" y="438" width="3" height="14" fill="#c0c0c0"/>
<rect x="790" y="438" width="3" height="14" fill="#c0c0c0"/>
<rect x="794" y="438" width="3" height="14" fill="#c0c0c0"/>
<rect x="798" y="438" width="3" height="13" fill="#c0c0c0"/>
<rect x="802" y="438" width="3" height="14" fill="#c0c0c0"/>
<rect x="806" y="438" width="3" height="13" fill="#c0c0c0"/>
<rect x="810" y="438" width="3" height="12" fill="#c0c0c0"/>
<rect x="814" y="438" width="3" height="12" fill="#c0c0c0"/>
<rect x="818" y="438" width="3" height="10" fill="#c0c0c0"/>
<rect x="822" y="438" width="3" height="9" fill="#c0c0c0"/>
<rect x="826" y="438" width="3" height="9" fill="#c0c0c0"/>
<rect x="830" y="438" width="3" height="7" fill="#c0c0c0"/>
<rect x="834" y="438" width="3" height="7" fill="#c0c0c0"/>
<rect x="838" y="438" width="3" height="9" fill="#c0c0c0"/>
<rect x="842" y="438" width="3" height="10" fill="#c0c0c0"/>
<rect x="846" y="438" width="3" height="10" fill="#c0c0c0"/>
<rect x="850" y="438" width="3" height="10" fill="#c0c0c0"/>
<rect x="854" y="438" width="3" height="10" fill="#c0c0c0"/>
<rect x="858" y="438" width="3" height="11" fill="#c0c0c0"/>
<rect x="862" y="438" width="3" height="13" fill="#c0c0c0"/>
<rect x="866" y="438" width="3" height="12" fill="#c0c0c0"/>
<rect x="870" y="438" width="3" height="11" fill="#c0c0c0"/>
<rect x="874" y="438" width="3" height="10" fill="#c0c0c0"/>
<rect x="878" y="438" width="3" height="9" fill="#c0c0c0"/>
<rect x="882" y="438" width="3" height="9" fill="#c0c0c0"/>
<rect x="886" y="438" width="3" height="8" fill="#c0c0c0"/>
<rect x="890" y="438" width="3" height="6" fill="#c0c0c0"/>
<rect x="894" y="438" width="3" height="5" fill="#c0c0c0"/>
<rect x="898" y="438" width="3" height="5" fill="#c0c0c0"/>
<rect x="902" y="438" width="3" height="4" fill="#c0c0c0"/>
<rect x="906" y="438" width="3" height="4" fill="#c0c0c0"/>
<rect x="910" y="438" width="3" height="4" fill="#c0c0c0"/>
<rect x="914" y="438" width="3" height="4" fill="#c0c0c0"/>
<rect x="918" y="438" width="3" height="4" fill="#c0c0c0"/>
<rect x="922" y="438" width="3" height="5" fill="#c0c0c0"/>
<path d="M3 450h3v1h-3zM6 451h3v1h-3zM9 452h4v1h-4zM13 453h4v1h-4zM17 454h5v1h-5zM22 455h4v1h-4zM26 456h4v1h-4zM30 457h7v1h-7zM37 456h4v1h-4zM41 455h3v1h-3zM44 454h3v1h-3zM47 453h2v1h-2zM49 452h2v1h-2zM51 451h2v1h-2zM53 450h1v1h-1zM54 449h2v1h-2zM56 448h2v1h-2zM58 447h1v1h-1zM59 446h2v1h-2zM61 445h2v1h-2zM63 444h1v1h-1zM64 443h2v1h-2zM66 442h2v1h-2zM68 441h2v1h-2zM70 440h2v1h-2zM72 439h2v1h-2zM74 438h1v1h-1zM75 437h2v1h-2zM77 436h1v1h-1zM78 435h1v1h-1zM79 434h2v1h-2zM81 433h1v1h-1zM82 432h1v1h-1zM83 431h2v1h-2zM85 430h3v1h-3zM88 429h3v1h-3zM91 428h3v1h-3zM94 427h2v1h-2zM96 426h4v1h-4zM100 425h4v1h-4zM104 424h15v1h-15zM119 425h13v1h-13zM132 424h5v1h-5zM137 423h3v1h-3zM140 422h2v1h-2zM142 421h2v1h-2zM144 420h3v1h-3zM147 419h2v1h-2zM149 418h2v1h-2zM151 417h2v1h-2zM153 416h3v1h-3zM156 415h2v1h-2zM158 414h21v1h-21zM179 415h4v1h-4zM183 416h3v1h-3zM186 417h3v1h-3zM189 418h3v1h-3zM192 419h2v1h-2zM194 420h2v1h-2zM196 421h2v1h-2zM198 422h2v1h-2zM200 423h2v1h-2zM202 424h1v1h-1zM203 425h2v1h-2zM205 426h1v1h-1zM206 427h1v1h-1zM207 428h2v1h-2zM209 429h1v1h-1zM210 430h1v1h-1zM211 431h1v1h-1zM212 432h1v1h-1zM213 433h2v1h-2zM215 434h1v1h-1zM216 435h1v1h-1zM217 436h1v1h-1zM218 437h2v1h-2zM220 438h1v1h-1zM221 439h1v1h-1zM222 440h2v1h-2zM224 441h1v1h-1zM225 442h2v1h-2zM227 443h1v1h-1zM228 444h2v1h-2zM230 445h1v1h-1zM231 446h2v1h-2zM233 447h2v1h-2zM235 448h2v1h-2zM237 449h3v1h-3zM240 450h3v1h-3zM243 451h4v1h-4zM247 452h4v1h-4zM251 453h2v1h-2zM253 454h3v1h-3zM256 455h2v1h-2zM258 456h4v1h-4zM262 457h6v1h-6zM268 458h6v1h-6zM274 459h5v1h-5zM279 460h3v1h-3zM282 461h25v1h-25zM307 462h4v1h-4zM311 463h3v1h-3zM314 464h4v1h-4zM318 465h4v1h-4zM322 466h3v1h-3zM325 467h4v1h-4zM329 468h12v1h-12zM341 467h3v1h-3zM344 466h3v1h-3zM347 465h4v1h-4zM351 464h3v1h-3zM354 463h2v1h-2zM356 462h2v1h-2zM358 461h1v1h-1zM359 460h2v1h-2zM361 459h2v1h-2zM363 458h2v1h-2zM365 457h1v1h-1zM366 456h2v1h-2zM368 455h2v1h-2zM370 454h1v1h-1zM371 453h1v1h-1zM372 452h2v1h-2zM374 451h1v1h-1zM375 450h1v1h-1zM376 449h1v1h-1zM377 448h1v1h-1zM378 447h1v1h-1zM379 446h1v1h-1zM380 445h1v1h-1zM381 444h1v1h-1zM382 443h1v1h-1zM383 442h1v1h-1zM384 441h1v1h-1zM385 440h1v1h-1zM386 439h1v1h-1zM387 438h1v1h-1zM388 437h1v1h-1zM389 436h2v1h-2zM391 435h1v1h-1zM392 434h1v1h-1zM393 433h1v1h-1zM394 432h1v1h-1zM395 431h1v1h-1zM396 430h1v1h-1zM397 429h2v1h-2zM399 428h2v1h-2zM401 427h2v1h-2zM403 426h2v1h-2zM405 425h3v1h-3zM408 424h4v1h-4zM412 423h13v1h-13zM425 422h22v1h-22zM447 423h11v1h-11zM458 424h9v1h-9zM467 425h3v1h-3zM470 426h10v1h-10zM480 427h13v1h-13zM493 428h5v1h-5zM498 429h4v1h-4zM502 430h4v1h-4zM506 431h9v1h-9zM515 432h3v1h-3zM518 433h3v1h-3zM521 434h14v1h-14zM535 435h2v1h-2zM537 434h12v1h-12zM549 433h27v1h-27zM576 434h3v1h-3zM579 435h4v1h-4zM583 436h4v1h-4zM587 437h2v1h-2zM589 438h3v1h-3zM592 439h3v1h-3zM595 440h3v1h-3zM598 441h4v1h-4zM602 442h4v1h-4zM606 443h3v1h-3zM609 444h4v1h-4zM613 445h7v1h-7zM620 446h17v1h-17zM637 445h3v1h-3zM640 444h3v1h-3zM643 443h3v1h-3zM646 442h4v1h-4zM650 441h4v1h-4zM654 440h4v1h-4zM658 439h5v1h-5zM663 438h21v1h-21zM684 439h8v1h-8zM692 440h6v1h-6zM698 441h7v1h-7zM705 442h11v1h-11zM716 443h3v1h-3zM719 444h3v1h-3zM722 445h3v1h-3zM725 446h2v1h-2zM727 447h2v1h-2zM729 448h3v1h-3zM732 449h1v1h-1zM733 450h2v1h-2zM735 451h2v1h-2zM737 452h2v1h-2zM739 453h2v1h-2zM741 454h2v1h-2zM743 455h3v1h-3zM746 456h2v1h-2zM748 457h3v1h-3zM751 458h18v1h-18zM769 457h4v1h-4zM773 456h3v1h-3zM776 455h6v1h-6zM782 454h6v1h-6zM788 453h4v1h-4zM792 452h14v1h-14zM806 451h4v1h-4zM810 450h6v1h-6zM816 449h8v1h-8zM824 448h6v1h-6zM830 447h7v1h-7zM837 446h25v1h-25zM862 447h9v1h-9zM871 448h10v1h-10zM881 447h12v1h-12zM893 446h3v1h-3zM896 445h5v1h-5zM901 444h5v1h-5zM906 443h5v1h-5zM911 442h13v1h-13z" fill="#ff0000"/>
<path d="M4 499.5H1165M4 527.5H1165" stroke="#c0c0c0" stroke-width="1" stroke-dasharray="3 3" fill="none"/>
<path d="M3 523h1v1h-1zM4 522h2v1h-2zM6 521h4v1h-4zM10 522h8v1h-8zM18 523h2v1h-2zM20 522h1v1h-1zM21 520h1v2h-1zM22 519h1v1h-1zM23 518h2v1h-2zM25 517h2v1h-2zM27 516h1v1h-1zM28 515h2v1h-2zM30 514h1v1h-1zM31 513h1v1h-1zM32 512h11v1h-11zM43 513h2v1h-2zM45 514h2v1h-2zM47 513h1v2h-1zM48 511h1v2h-1zM49 510h1v1h-1zM50 508h1v2h-1zM51 507h3v1h-3zM54 508h1v1h-1zM55 509h1v1h-1zM56 510h1v1h-1zM57 511h1v1h-1zM58 512h1v1h-1zM59 513h1v1h-1zM60 512h2v1h-2zM62 511h2v1h-2zM64 510h4v1h-4zM68 509h4v1h-4zM72 508h1v1h-1zM73 507h1v1h-1zM74 506h1v1h-1zM75 505h1v1h-1zM76 504h1v1h-1zM77 503h1v1h-1zM78 502h3v1h-3zM81 503h1v2h-1zM82 505h1v1h-1zM83 506h1v1h-1zM84 507h1v1h-1zM85 508h1v1h-1zM86 509h1v1h-1zM87 510h2v1h-2zM89 511h1v1h-1zM90 512h1v1h-1zM91 513h1v1h-1zM92 512h1v1h-1zM93 511h13v1h-13zM106 512h1v1h-1zM107 513h1v1h-1zM108 512h1v1h-1zM109 511h2v1h-2zM111 510h9v1h-9zM120 509h1v1h-1zM121 508h1v1h-1zM122 507h2v1h-2zM124 506h2v1h-2zM126 505h3v1h-3zM129 504h5v1h-5zM134 505h1v1h-1zM135 504h1v1h-1zM136 503h1v1h-1zM137 502h1v1h-1zM138 500h1v2h-1zM139 500h4v1h-4zM143 501h2v1h-2zM145 502h1v1h-1zM146 503h2v1h-2zM148 504h2v1h-2zM150 503h3v1h-3zM153 504h1v1h-1zM154 505h1v1h-1zM155 506h1v1h-1zM156 507h1v1h-1zM157 508h1v1h-1zM158 509h1v1h-1zM159 510h1v1h-1zM160 509h1v1h-1zM161 508h3v1h-3zM164 507h9v1h-9zM173 508h1v1h-1zM174 509h2v1h-2zM176 510h3v1h-3zM179 511h3v1h-3zM182 512h2v1h-2zM184 513h2v1h-2zM186 514h1v1h-1zM187 515h2v1h-2zM189 514h4v1h-4zM193 515h1v2h-1zM194 517h1v1h-1zM195 518h1v1h-1zM196 519h3v1h-3zM199 520h2v1h-2zM201 521h2v1h-2zM203 522h2v1h-2zM205 521h6v1h-6zM211 522h2v1h-2zM213 523h2v1h-2zM215 524h2v1h-2zM217 523h1v1h-1zM218 522h4v1h-4zM222 523h2v1h-2zM224 524h2v1h-2zM226 525h1v1h-1zM227 526h1v1h-1zM228 525h1v1h-1zM229 524h1v1h-1zM230 523h1v1h-1zM231 522h3v1h-3zM234 523h1v1h-1zM235 522h1v1h-1zM236 521h1v1h-1zM237 520h1v1h-1zM238 519h1v1h-1zM239 518h5v1h-5zM244 519h1v1h-1zM245 520h1v1h-1zM246 521h1v1h-1zM247 522h1v2h-1zM248 524h1v1h-1zM249 525h1v2h-1zM250 527h1v2h-1zM251 529h1v1h-1zM252 530h1v1h-1zM253 529h3v1h-3zM256 528h1v1h-1zM257 527h2v1h-2zM259 526h1v1h-1zM260 524h1v2h-1zM261 522h1v2h-1zM262 520h1v2h-1zM263 519h5v1h-5zM268 520h2v1h-2zM270 521h2v1h-2zM272 522h1v1h-1zM273 521h4v1h-4zM277 522h1v1h-1zM278 523h2v1h-2zM280 522h2v1h-2zM282 521h1v1h-1zM283 520h4v1h-4zM287 521h2v1h-2zM289 520h3v1h-3zM292 521h2v1h-2zM294 522h1v1h-1zM295 523h1v1h-1zM296 524h5v1h-5zM301 525h1v1h-1zM302 526h1v1h-1zM303 527h1v1h-1zM304 528h2v1h-2zM306 529h3v1h-3zM309 530h2v1h-2zM311 531h1v1h-1zM312 530h2v1h-2zM314 529h1v1h-1zM315 528h1v1h-1zM316 527h2v1h-2zM318 526h1v1h-1zM319 525h2v1h-2zM321 524h3v1h-3zM324 523h1v1h-1zM325 522h1v1h-1zM326 521h1v1h-1zM327 520h4v1h-4zM331 521h3v1h-3zM334 522h1v1h-1zM335 521h1v1h-1zM336 520h1v1h-1zM337 519h2v1h-2zM339 518h2v1h-2zM341 519h2v1h-2zM343 520h3v1h-3zM346 521h1v1h-1zM347 520h2v1h-2zM349 519h1v1h-1zM350 518h1v1h-1zM351 517h2v1h-2zM353 516h1v1h-1zM354 515h5v1h-5zM359 514h1v1h-1zM360 512h1v2h-1zM361 511h1v1h-1zM362 509h1v2h-1zM363 508h1v1h-1zM364 507h1v1h-1zM365 506h2v1h-2zM367 505h2v1h-2zM369 504h3v1h-3zM372 503h4v1h-4zM376 502h2v1h-2zM378 501h7v1h-7zM385 502h1v1h-1zM386 503h1v1h-1zM387 504h2v1h-2zM389 505h1v1h-1zM390 506h1v1h-1zM391 507h6v1h-6zM397 506h3v1h-3zM400 505h4v1h-4zM404 504h7v1h-7zM411 505h2v1h-2zM413 506h1v1h-1zM414 507h3v1h-3zM417 506h1v1h-1zM418 505h1v1h-1zM419 504h3v1h-3zM422 505h3v1h-3zM425 504h1v1h-1zM426 503h1v1h-1zM427 502h2v1h-2zM429 503h2v1h-2zM431 504h1v1h-1zM432 505h2v1h-2zM434 506h2v1h-2zM436 507h1v1h-1zM437 506h3v1h-3zM440 507h1v2h-1zM441 509h1v1h-1zM442 510h1v2h-1zM443 512h4v1h-4zM447 511h2v1h-2zM449 510h1v1h-1zM450 509h2v1h-2zM452 507h1v2h-1zM453 506h1v1h-1zM454 504h1v2h-1zM455 504h2v1h-2zM457 505h1v1h-1zM458 506h1v1h-1zM459 507h1v1h-1zM460 508h1v2h-1zM461 510h1v1h-1zM462 511h1v1h-1zM463 512h2v1h-2zM465 511h7v1h-7zM472 510h1v1h-1zM473 509h2v1h-2zM475 507h1v2h-1zM476 505h1v2h-1zM477 504h1v1h-1zM478 502h1v2h-1zM479 502h1v1h-1zM480 502h1v2h-1zM481 504h1v2h-1zM482 506h1v2h-1zM483 508h1v1h-1zM484 509h1v2h-1zM485 511h1v2h-1zM486 513h1v2h-1zM487 515h21v1h-21zM508 513h1v2h-1zM509 512h1v1h-1zM510 511h2v1h-2zM512 510h10v1h-10zM522 511h1v1h-1zM523 512h8v1h-8zM531 513h4v1h-4zM535 512h1v1h-1zM536 511h1v1h-1zM537 510h1v1h-1zM538 508h1v2h-1zM539 508h2v1h-2zM541 509h2v1h-2zM543 510h1v1h-1zM544 509h1v1h-1zM545 508h1v1h-1zM546 507h6v1h-6zM552 508h1v1h-1zM553 509h1v2h-1zM554 511h1v1h-1zM555 512h1v1h-1zM556 513h1v1h-1zM557 514h1v1h-1zM558 515h1v1h-1zM559 516h4v1h-4zM563 515h1v1h-1zM564 514h1v1h-1zM565 513h1v1h-1zM566 512h2v1h-2zM568 513h1v1h-1zM569 514h1v2h-1zM570 516h1v1h-1zM571 517h2v1h-2zM573 516h3v1h-3zM576 517h2v1h-2zM578 518h2v1h-2zM580 519h2v1h-2zM582 520h7v1h-7zM589 521h1v1h-1zM590 522h1v1h-1zM591 523h1v1h-1zM592 522h1v1h-1zM593 521h1v1h-1zM594 520h1v1h-1zM595 519h1v1h-1zM596 518h1v1h-1zM597 517h1v1h-1zM598 516h1v1h-1zM599 515h3v1h-3zM602 516h3v1h-3zM605 517h3v1h-3zM608 518h2v1h-2zM610 519h2v1h-2zM612 520h7v1h-7zM619 521h2v1h-2zM621 522h1v1h-1zM622 523h2v1h-2zM624 520h1v3h-1zM625 518h1v2h-1zM626 516h1v2h-1zM627 514h1v2h-1zM628 513h1v1h-1zM629 511h1v2h-1zM630 510h1v1h-1zM631 509h1v1h-1zM632 508h4v1h-4zM636 507h4v1h-4zM640 508h1v1h-1zM641 509h2v1h-2zM643 510h1v1h-1zM644 511h1v1h-1zM645 512h2v1h-2zM647 513h10v1h-10zM657 512h1v1h-1zM658 511h1v1h-1zM659 510h2v1h-2zM661 509h2v1h-2zM663 509h1v2h-1zM664 511h1v2h-1zM665 513h1v2h-1zM666 515h1v2h-1zM667 517h1v1h-1zM668 518h2v1h-2zM670 519h1v1h-1zM671 520h1v1h-1zM672 519h1v1h-1zM673 518h1v1h-1zM674 517h1v1h-1zM675 516h5v1h-5zM680 515h2v1h-2zM682 514h3v1h-3zM685 515h2v1h-2zM687 516h3v1h-3zM690 517h2v1h-2zM692 516h1v1h-1zM693 515h1v1h-1zM694 514h1v1h-1zM695 513h3v1h-3zM698 514h2v1h-2zM700 515h1v1h-1zM701 516h1v2h-1zM702 518h1v1h-1zM703 519h3v1h-3zM706 518h8v1h-8zM714 519h1v1h-1zM715 520h1v1h-1zM716 521h1v2h-1zM717 523h1v2h-1zM718 525h1v2h-1zM719 527h1v1h-1zM720 526h1v1h-1zM721 525h1v1h-1zM722 524h2v1h-2zM724 523h5v1h-5zM729 524h3v1h-3zM732 525h8v1h-8zM740 524h1v1h-1zM741 522h1v2h-1zM742 521h4v1h-4zM746 522h1v1h-1zM747 521h1v1h-1zM748 520h1v1h-1zM749 519h1v1h-1zM750 518h1v1h-1zM751 517h2v1h-2zM753 518h2v1h-2zM755 519h2v1h-2zM757 518h5v1h-5zM762 519h3v1h-3zM765 518h9v1h-9zM774 519h2v1h-2zM776 520h3v1h-3zM779 519h1v1h-1zM780 518h1v1h-1zM781 517h1v1h-1zM782 516h4v1h-4zM786 517h2v1h-2zM788 518h1v1h-1zM789 519h2v1h-2zM791 520h4v1h-4zM795 519h2v1h-2zM797 518h3v1h-3zM800 519h2v1h-2zM802 520h1v1h-1zM803 521h2v1h-2zM805 520h3v1h-3zM808 519h1v1h-1zM809 517h1v2h-1zM810 516h4v1h-4zM814 517h2v1h-2zM816 516h3v1h-3zM819 515h2v1h-2zM821 514h5v1h-5zM826 515h3v1h-3zM829 514h1v1h-1zM830 513h3v1h-3zM833 514h1v1h-1zM834 515h1v1h-1zM835 516h1v2h-1zM836 518h1v1h-1zM837 519h1v1h-1zM838 520h1v1h-1zM839 521h1v1h-1zM840 522h1v1h-1zM841 521h3v1h-3zM844 520h4v1h-4zM848 519h9v1h-9zM857 520h1v1h-1zM858 521h1v1h-1zM859 522h1v1h-1zM860 523h1v1h-1zM861 524h1v1h-1zM862 525h2v1h-2zM864 522h1v3h-1zM865 519h1v3h-1zM866 516h1v3h-1zM867 515h8v1h-8zM875 516h3v1h-3zM878 517h2v1h-2zM880 516h1v1h-1zM881 515h3v1h-3zM884 514h4v1h-4zM888 513h1v1h-1zM889 512h7v1h-7zM896 513h2v1h-2zM898 514h1v1h-1zM899 515h8v1h-8zM907 516h8v1h-8zM915 517h8v1h-8z" fill="#1e90ff"/>
</g>
</svg>
<!-- frames -->
<div class="fr" style="left:2px;top:25px;width:1164px;height:380px;border-right:1px solid #000"></div>
<div class="fr" style="left:2px;top:406px;width:1164px;height:70px;border-right:1px solid #000"></div>
<div class="fr" style="left:2px;top:477px;width:1164px;height:73px;border-right:1px solid #000"></div>
<div class="pl" style="top:32.5px">6.59120</div><div class="tk" style="top:38px"></div><div class="pl" style="top:65.5px">6.56670</div><div class="tk" style="top:71px"></div><div class="pl" style="top:98.5px">6.54290</div><div class="tk" style="top:104px"></div><div class="pl" style="top:131.5px">6.51840</div><div class="tk" style="top:137px"></div><div class="pl" style="top:164.5px">6.49460</div><div class="tk" style="top:170px"></div><div class="pl" style="top:197.5px">6.47080</div><div class="tk" style="top:203px"></div><div class="pl" style="top:230.5px">6.44560</div><div class="tk" style="top:236px"></div><div class="pl" style="top:263.5px">6.42180</div><div class="tk" style="top:269px"></div><div class="pl" style="top:296.5px">6.39730</div><div class="tk" style="top:302px"></div><div class="pl" style="top:329.5px">6.37283</div><div class="tk" style="top:335px"></div><div class="pl" style="top:362.5px">6.34900</div><div class="tk" style="top:368px"></div><div class="pl" style="top:395.5px">6.32520</div><div class="tk" style="top:401px"></div><div class="pl" style="left:1169px;top:407.8px">0.02607</div><div class="pl" style="left:1169px;top:432.8px">0.00</div><div class="pl" style="left:1169px;top:462.8px">-0.031872</div><div class="pl" style="left:1169px;top:478.8px">100</div><div class="pl" style="left:1169px;top:493.8px">70</div><div class="pl" style="left:1169px;top:521.8px">30</div><div class="pl" style="left:1169px;top:536.8px">0</div>
<div class="tag" style="top:336px;background:#000">6.36880</div><div class="tag" style="top:127px;background:#ff0000">6.52126</div><div class="tag" style="top:197px;background:#ff0000">6.47044</div><div class="tag" style="top:260px;background:#00ff00">6.42424</div><div class="tag" style="top:333px;background:#0000ff">6.37063</div><div class="tag" style="top:388px;background:#0000ff">6.33041</div>
<div style="position:absolute;left:1159px;top:263px;width:6px;height:6px;border:2px solid #00ff00;background:#fff"></div><div style="position:absolute;left:1159px;top:336px;width:6px;height:6px;border:2px solid #0000ff;background:#fff"></div><div style="position:absolute;left:1159px;top:391px;width:6px;height:6px;border:2px solid #0000ff;background:#fff"></div><div style="position:absolute;left:2px;top:336px;width:6px;height:6px;border:2px solid #0000ff;background:#fff"></div><div style="position:absolute;left:2px;top:391px;width:6px;height:6px;border:2px solid #0000ff;background:#fff"></div><div style="position:absolute;left:2px;top:263px;width:3px;height:6px;background:#00ff00"></div>
<div class="dt" style="left:1.5px">9 Feb 2021</div><div style="position:absolute;left:3px;top:549px;width:1px;height:4px;background:#000"></div><div class="dt" style="left:65.5px">3 Mar 2021</div><div style="position:absolute;left:67px;top:549px;width:1px;height:4px;background:#000"></div><div class="dt" style="left:129.5px">25 Mar 2021</div><div style="position:absolute;left:131px;top:549px;width:1px;height:4px;background:#000"></div><div class="dt" style="left:193.5px">19 Apr 2021</div><div style="position:absolute;left:195px;top:549px;width:1px;height:4px;background:#000"></div><div class="dt" style="left:257.5px">11 May 2021</div><div style="position:absolute;left:259px;top:549px;width:1px;height:4px;background:#000"></div><div class="dt" style="left:321.5px">2 Jun 2021</div><div style="position:absolute;left:323px;top:549px;width:1px;height:4px;background:#000"></div><div class="dt" style="left:385.5px">24 Jun 2021</div><div style="position:absolute;left:387px;top:549px;width:1px;height:4px;background:#000"></div><div class="dt" style="left:449.5px">16 Jul 2021</div><div style="position:absolute;left:451px;top:549px;width:1px;height:4px;background:#000"></div><div class="dt" style="left:513.5px">9 Aug 2021</div><div style="position:absolute;left:515px;top:549px;width:1px;height:4px;background:#000"></div><div class="dt" style="left:577.5px">31 Aug 2021</div><div style="position:absolute;left:579px;top:549px;width:1px;height:4px;background:#000"></div><div class="dt" style="left:641.5px">22 Sep 2021</div><div style="position:absolute;left:643px;top:549px;width:1px;height:4px;background:#000"></div><div class="dt" style="left:705.5px">14 Oct 2021</div><div style="position:absolute;left:707px;top:549px;width:1px;height:4px;background:#000"></div><div class="dt" style="left:769.5px">5 Nov 2021</div><div style="position:absolute;left:771px;top:549px;width:1px;height:4px;background:#000"></div><div class="dt" style="left:833.5px">29 Nov 2021</div><div style="position:absolute;left:835px;top:549px;width:1px;height:4px;background:#000"></div><div class="dt" style="left:897.5px">21 Dec 2021</div><div style="position:absolute;left:899px;top:549px;width:1px;height:4px;background:#000"></div>
<!-- indicator text -->
<div style="position:absolute;left:7px;top:410px;height:12px;line-height:12px;letter-spacing:-0.356px;white-space:nowrap" id="macdt">MACD(12,26,9) -0.003360 -0.003423</div>
<div style="position:absolute;left:7px;top:481px;height:12px;line-height:12px;letter-spacing:-0.38px;white-space:nowrap" id="rsit">RSI(14) 43.2317</div>

<!-- one click trading panel -->
<div style="position:absolute;left:3px;top:26px;width:225px;height:78px;background:#fff"></div>
<div style="position:absolute;left:7px;top:30px;width:0;height:0;border-left:3.5px solid transparent;border-right:3.5px solid transparent;border-bottom:5px solid #000"></div>
<div style="position:absolute;left:18.3px;top:28px;height:12px;line-height:12px;letter-spacing:-0.1px;white-space:pre" id="title">USDCNH-,Daily</div>
<div class="tn" style="left:93.2px">6.37153</div><div class="tn" style="left:129.2px">6.37264</div><div class="tn" style="left:165.3px">6.36880</div><div class="tn" style="left:201.2px">6.36880</div>
<div style="position:absolute;left:6px;top:45px;width:52px;height:24px;background:linear-gradient(#f25050,#d42424)"></div>
<div style="position:absolute;left:174px;top:45px;width:51px;height:24px;background:linear-gradient(#f25050,#d42424)"></div>
<div style="position:absolute;left:6px;top:69px;width:109px;height:33px;background:linear-gradient(#d22020,#a60000)"></div>
<div style="position:absolute;left:117px;top:69px;width:108px;height:33px;background:linear-gradient(#d22020,#a60000)"></div>
<div style="position:absolute;left:10px;top:68px;width:44px;height:1px;background:#980808"></div>
<div style="position:absolute;left:177px;top:68px;width:44px;height:1px;background:#980808"></div>
<div style="position:absolute;left:6px;top:45px;width:50px;height:23px;line-height:23px;text-align:center;color:#fff;text-shadow:none;font-size:12.3px;transform:scaleX(0.86)">SELL</div>
<div style="position:absolute;left:172px;top:45px;width:51px;height:23px;line-height:23px;text-align:center;color:#fff;text-shadow:none;font-size:12.3px;transform:scaleX(0.86)">BUY</div>
<div style="position:absolute;left:60px;top:45px;width:111px;height:22px;background:#fff;border:1px solid #b4b4c0"></div>
<div style="position:absolute;left:61px;top:46px;width:20px;height:20px;background:linear-gradient(#f2f2f2 0%,#eaeaea 45%,#d8d8d8 50%,#d0d0d0 100%);border-right:1px solid #b8b8c4"></div>
<div style="position:absolute;left:150px;top:46px;width:20px;height:20px;background:linear-gradient(#f2f2f2 0%,#eaeaea 45%,#d8d8d8 50%,#d0d0d0 100%);border-left:1px solid #b8b8c4"></div>
<div style="position:absolute;left:68px;top:55px;width:0;height:0;border-left:3px solid transparent;border-right:3px solid transparent;border-top:3px solid #5060c0"></div>
<div style="position:absolute;left:157px;top:54px;width:0;height:0;border-left:3px solid transparent;border-right:3px solid transparent;border-bottom:3px solid #5060c0"></div>
<div style="position:absolute;left:81px;top:45px;width:65px;height:22px;line-height:22px;text-align:right;font-size:12.5px">3.00</div>
<div style="position:absolute;left:26px;top:86px;height:12px;line-height:12px;color:#fff;text-shadow:none;font-size:12px;font-weight:bold">6.36</div>
<div style="position:absolute;left:54px;top:67px;height:36px;line-height:36px;color:#fff;text-shadow:none;font-size:34.4px;letter-spacing:-0.5px;transform:scaleX(0.914);transform-origin:0 0">88</div>
<div style="position:absolute;left:93px;top:71px;height:12px;line-height:12px;color:#fff;text-shadow:none;font-size:11.5px;font-weight:bold">0</div>
<div style="position:absolute;left:136px;top:86px;height:12px;line-height:12px;color:#fff;text-shadow:none;font-size:12px;font-weight:bold">6.37</div>
<div style="position:absolute;left:164.5px;top:67px;height:36px;line-height:36px;color:#fff;text-shadow:none;font-size:34.4px;letter-spacing:2.6px;transform:scaleX(0.914);transform-origin:0 0">11</div>
<div style="position:absolute;left:205px;top:71px;height:12px;line-height:12px;color:#fff;text-shadow:none;font-size:11.5px;font-weight:bold">4</div>

<!-- bottom tab bar -->
<div style="position:absolute;left:0;top:570px;width:1207px;height:1px;background:#e4e4e4"></div>
<div style="position:absolute;left:0;top:571px;width:1207px;height:26px;background:#f0f0f0"></div>
<div style="position:absolute;left:0;top:572px;width:1207px;height:1px;background:#000"></div>
<div style="position:absolute;left:524px;top:572px;width:112px;height:19px;background:#fff;border:1px solid #000;border-top:none"></div>
<div class="tab" style="left:525px;width:110px;color:#000">USDCNH-,Daily</div>
<div class="tab" style="left:15.2px;width:77.3px">USDX,Weekly</div><div class="tab" style="left:115.2px;width:85.39999999999999px">EURUSD-,Daily</div><div class="tab" style="left:222.3px;width:85.89999999999998px">AUDUSD-,Daily</div><div class="tab" style="left:332px;width:72.19999999999999px">USDCHF-,H4</div><div class="tab" style="left:427px;width:85.89999999999998px">USDCAD-,Daily</div><div class="tab" style="left:646.8px;width:73.90000000000009px">XAUUSD-,H4</div><div class="tab" style="left:742.4px;width:82.39999999999998px">UKOil-,Weekly</div><div class="tab" style="left:848px;width:63.89999999999998px">DJ30-,Daily</div><div class="tab" style="left:935.5px;width:60.89999999999998px">UK100-,H1</div><div style="position:absolute;left:105px;top:575px;width:1px;height:14px;background:#808080"></div><div style="position:absolute;left:212px;top:575px;width:1px;height:14px;background:#808080"></div><div style="position:absolute;left:320px;top:575px;width:1px;height:14px;background:#808080"></div><div style="position:absolute;left:416px;top:575px;width:1px;height:14px;background:#808080"></div><div style="position:absolute;left:732px;top:575px;width:1px;height:14px;background:#808080"></div><div style="position:absolute;left:836px;top:575px;width:1px;height:14px;background:#808080"></div><div style="position:absolute;left:924px;top:575px;width:1px;height:14px;background:#808080"></div><div style="position:absolute;left:1008px;top:575px;width:1px;height:14px;background:#808080"></div>
<div style="position:absolute;left:0;top:592px;width:1207px;height:3px;background:#fafafa"></div>
<div style="position:absolute;left:0;top:595px;width:1207px;height:2px;background:#a8a8a8"></div>
<div style="position:absolute;left:1180px;top:578px;width:0;height:0;border-top:3px solid transparent;border-bottom:3px solid transparent;border-right:4px solid #a0a0a0"></div>
<div style="position:absolute;left:1200px;top:578px;width:0;height:0;border-top:3px solid transparent;border-bottom:3px solid transparent;border-left:4px solid #a0a0a0"></div>
</body></html>
